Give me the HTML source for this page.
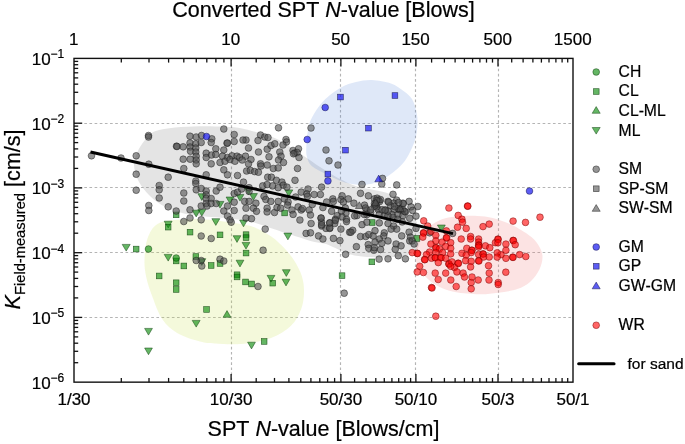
<!DOCTYPE html><html><head><meta charset="utf-8"><title>plot</title>
<style>html,body{margin:0;padding:0;background:#fff;overflow:hidden}svg{display:block}text{font-family:"Liberation Sans",sans-serif;fill:#000;stroke:#000;stroke-width:0.22px;font-kerning:none}</style></head><body>
<svg width="685" height="444" viewBox="0 0 685 444">
<rect width="685" height="444" fill="#fff"/>
<g stroke="#b4b4b4" stroke-width="1.15" stroke-dasharray="2.65 2.5" fill="none">
<line x1="231.5" y1="58.4" x2="231.5" y2="382.15"/>
<line x1="340.5" y1="58.4" x2="340.5" y2="382.15"/>
<line x1="415.5" y1="58.4" x2="415.5" y2="382.15"/>
<line x1="498.5" y1="58.4" x2="498.5" y2="382.15"/>
<line x1="74.0" y1="123.5" x2="573.0" y2="123.5"/>
<line x1="74.0" y1="187.5" x2="573.0" y2="187.5"/>
<line x1="74.0" y1="252.5" x2="573.0" y2="252.5"/>
<line x1="74.0" y1="317.5" x2="573.0" y2="317.5"/>
</g>
<path d="M134.0,165.0C133.8,160.2 135.7,156.2 137.5,152.0C139.3,147.8 142.1,143.4 145.0,140.0C147.9,136.6 150.0,133.4 155.0,131.3C160.0,129.2 167.5,128.3 175.0,127.5C182.5,126.7 191.7,126.3 200.0,126.2C208.3,126.1 218.2,126.3 225.0,126.7C231.8,127.1 232.9,126.5 241.0,128.3C249.1,130.1 265.2,134.3 273.5,137.5C281.8,140.7 285.6,144.2 291.0,147.5C296.4,150.8 301.2,154.2 306.0,157.5C310.8,160.8 314.2,163.3 320.0,167.0C325.8,170.7 334.8,176.3 341.0,179.6C347.2,182.8 349.6,184.3 357.0,186.5C364.4,188.7 378.5,190.2 385.5,192.5C392.5,194.8 394.7,196.8 399.0,200.0C403.3,203.2 408.3,207.7 411.5,212.0C414.7,216.3 416.6,221.5 418.0,226.0C419.4,230.5 420.1,235.2 420.0,239.0C419.9,242.8 419.0,246.0 417.5,248.5C416.0,251.0 415.4,252.6 411.0,254.0C406.6,255.4 398.3,256.7 391.0,257.2C383.7,257.7 373.7,257.4 367.0,257.0C360.3,256.6 355.6,255.8 350.8,254.5C346.0,253.2 342.5,251.2 338.4,249.5C334.3,247.8 330.6,245.4 326.0,244.0C321.4,242.6 316.4,242.5 310.5,240.9C304.6,239.3 297.0,236.7 290.6,234.6C284.2,232.5 278.8,230.6 272.0,228.4C265.2,226.2 257.8,223.2 250.0,221.5C242.2,219.8 235.0,219.1 225.0,218.0C215.0,216.9 199.8,216.5 190.0,214.7C180.2,212.9 172.7,210.3 166.0,207.2C159.3,204.1 154.6,200.4 150.0,196.0C145.4,191.6 141.2,186.2 138.5,181.0C135.8,175.8 134.2,169.8 134.0,165.0Z" fill="#7a7a7a" fill-opacity="0.2"/>
<path d="M205.0,219.5C215.5,220.2 232.3,222.5 241.0,224.0C249.7,225.5 251.8,226.2 257.0,228.4C262.2,230.6 267.4,233.7 272.0,237.0C276.6,240.3 280.7,244.4 284.4,248.3C288.1,252.2 291.4,256.1 294.3,260.7C297.2,265.3 300.2,270.8 301.8,276.0C303.4,281.2 304.1,286.4 304.0,292.0C303.9,297.6 303.2,303.9 301.0,309.5C298.8,315.1 296.0,320.9 291.0,325.7C286.0,330.4 279.3,334.9 271.0,338.0C262.7,341.1 250.3,343.1 241.0,344.0C231.7,344.9 221.8,343.9 215.0,343.5C208.2,343.1 206.2,343.2 200.0,341.5C193.8,339.8 183.8,336.9 177.5,333.2C171.2,329.5 166.7,325.5 162.5,319.5C158.3,313.5 155.2,304.1 152.5,297.0C149.8,289.9 147.5,283.2 146.2,277.0C144.9,270.8 144.3,266.4 144.5,260.0C144.7,253.6 145.3,244.5 147.5,238.5C149.7,232.5 152.4,227.1 157.5,224.0C162.6,220.9 170.1,220.6 178.0,219.8C185.9,219.1 194.5,218.8 205.0,219.5Z" fill="#c8e14b" fill-opacity="0.2"/>
<path d="M372.0,80.0C377.8,80.2 385.8,81.7 391.0,83.5C396.2,85.3 400.0,88.4 403.5,91.0C407.0,93.6 409.8,95.5 412.0,99.0C414.2,102.5 415.6,107.7 416.5,112.0C417.4,116.3 417.8,120.3 417.5,125.0C417.2,129.7 416.5,135.0 415.0,140.0C413.5,145.0 410.9,150.7 408.5,155.0C406.1,159.3 404.3,162.2 400.4,166.0C396.5,169.8 390.6,174.9 385.0,178.0C379.4,181.1 373.7,183.8 367.0,184.6C360.3,185.3 351.8,184.3 345.0,182.5C338.2,180.7 331.6,176.8 326.0,174.0C320.4,171.2 314.9,168.8 311.7,166.0C308.5,163.2 307.9,160.1 307.0,157.0C306.1,153.9 306.1,152.0 306.3,147.5C306.5,143.0 307.1,135.0 308.0,130.0C308.9,125.0 309.4,122.3 312.0,117.5C314.6,112.7 318.7,106.0 323.5,101.0C328.3,96.0 335.6,90.7 341.0,87.5C346.4,84.3 350.8,83.2 356.0,82.0C361.2,80.8 366.2,79.8 372.0,80.0Z" fill="#5082d7" fill-opacity="0.18"/>
<path d="M467.8,215.7C473.3,215.6 479.6,215.8 485.0,216.6C490.4,217.4 495.1,218.7 500.0,220.3C504.9,221.9 509.4,223.4 514.6,226.2C519.8,229.0 527.2,233.5 531.4,237.0C535.5,240.5 537.6,243.7 539.5,247.0C541.4,250.3 542.5,253.3 542.5,257.0C542.5,260.7 541.5,265.2 539.4,269.4C537.3,273.6 533.7,278.7 530.0,282.0C526.3,285.3 522.6,287.3 517.3,289.1C512.0,290.9 504.7,291.9 498.4,292.8C492.1,293.7 486.7,294.4 479.5,294.3C472.3,294.2 461.8,293.3 455.0,292.0C448.2,290.7 443.8,289.4 438.6,286.6C433.4,283.8 427.8,279.4 424.0,275.0C420.2,270.6 416.9,265.2 415.7,260.3C414.5,255.4 415.2,250.5 416.6,245.6C418.0,240.7 420.3,235.1 424.0,231.0C427.7,226.9 433.9,223.1 438.6,220.8C443.3,218.5 447.1,217.8 452.0,217.0C456.9,216.2 462.3,215.8 467.8,215.7Z" fill="#f07373" fill-opacity="0.2"/>
<path d="M122.2,244.4L130.2,244.4L126.2,251.1Z" fill="#0a8c0a" fill-opacity="0.63" stroke="#0a3d0a" stroke-opacity="0.8" stroke-width="0.6"/>
<path d="M164.2,221.2L172.1,221.2L168.2,227.9Z" fill="#0a8c0a" fill-opacity="0.63" stroke="#0a3d0a" stroke-opacity="0.8" stroke-width="0.6"/>
<path d="M164.2,254.4L172.1,254.4L168.2,261.1Z" fill="#0a8c0a" fill-opacity="0.63" stroke="#0a3d0a" stroke-opacity="0.8" stroke-width="0.6"/>
<path d="M197.9,193.7L205.8,193.7L201.8,200.4Z" fill="#0a8c0a" fill-opacity="0.63" stroke="#0a3d0a" stroke-opacity="0.8" stroke-width="0.6"/>
<path d="M197.9,209.4L205.8,209.4L201.8,216.1Z" fill="#0a8c0a" fill-opacity="0.63" stroke="#0a3d0a" stroke-opacity="0.8" stroke-width="0.6"/>
<path d="M192.2,210.2L200.1,210.2L196.2,216.9Z" fill="#0a8c0a" fill-opacity="0.63" stroke="#0a3d0a" stroke-opacity="0.8" stroke-width="0.6"/>
<path d="M216.1,201.4L223.9,201.4L220.0,208.1Z" fill="#0a8c0a" fill-opacity="0.63" stroke="#0a3d0a" stroke-opacity="0.8" stroke-width="0.6"/>
<path d="M226.1,197.0L233.9,197.0L230.0,203.7Z" fill="#0a8c0a" fill-opacity="0.63" stroke="#0a3d0a" stroke-opacity="0.8" stroke-width="0.6"/>
<path d="M211.9,218.7L219.8,218.7L215.8,225.4Z" fill="#0a8c0a" fill-opacity="0.63" stroke="#0a3d0a" stroke-opacity="0.8" stroke-width="0.6"/>
<path d="M233.1,235.7L240.9,235.7L237.0,242.4Z" fill="#0a8c0a" fill-opacity="0.63" stroke="#0a3d0a" stroke-opacity="0.8" stroke-width="0.6"/>
<path d="M236.1,260.2L243.9,260.2L240.0,266.9Z" fill="#0a8c0a" fill-opacity="0.63" stroke="#0a3d0a" stroke-opacity="0.8" stroke-width="0.6"/>
<path d="M197.9,258.7L205.8,258.7L201.8,265.4Z" fill="#0a8c0a" fill-opacity="0.63" stroke="#0a3d0a" stroke-opacity="0.8" stroke-width="0.6"/>
<path d="M236.1,194.4L243.9,194.4L240.0,201.1Z" fill="#0a8c0a" fill-opacity="0.63" stroke="#0a3d0a" stroke-opacity="0.8" stroke-width="0.6"/>
<rect x="133.3" y="246.2" width="5.7" height="5.7" fill="#0a8c0a" fill-opacity="0.63" stroke="#0a3d0a" stroke-opacity="0.8" stroke-width="0.6"/>
<rect x="165.3" y="224.3" width="5.7" height="5.7" fill="#0a8c0a" fill-opacity="0.63" stroke="#0a3d0a" stroke-opacity="0.8" stroke-width="0.6"/>
<rect x="173.3" y="212.0" width="5.7" height="5.7" fill="#0a8c0a" fill-opacity="0.63" stroke="#0a3d0a" stroke-opacity="0.8" stroke-width="0.6"/>
<rect x="187.2" y="229.3" width="5.7" height="5.7" fill="#0a8c0a" fill-opacity="0.63" stroke="#0a3d0a" stroke-opacity="0.8" stroke-width="0.6"/>
<rect x="217.2" y="232.0" width="5.7" height="5.7" fill="#0a8c0a" fill-opacity="0.63" stroke="#0a3d0a" stroke-opacity="0.8" stroke-width="0.6"/>
<rect x="173.3" y="258.1" width="5.7" height="5.7" fill="#0a8c0a" fill-opacity="0.63" stroke="#0a3d0a" stroke-opacity="0.8" stroke-width="0.6"/>
<rect x="181.0" y="263.1" width="5.7" height="5.7" fill="#0a8c0a" fill-opacity="0.63" stroke="#0a3d0a" stroke-opacity="0.8" stroke-width="0.6"/>
<rect x="193.0" y="253.7" width="5.7" height="5.7" fill="#0a8c0a" fill-opacity="0.63" stroke="#0a3d0a" stroke-opacity="0.8" stroke-width="0.6"/>
<rect x="208.3" y="262.6" width="5.7" height="5.7" fill="#0a8c0a" fill-opacity="0.63" stroke="#0a3d0a" stroke-opacity="0.8" stroke-width="0.6"/>
<rect x="217.2" y="260.6" width="5.7" height="5.7" fill="#0a8c0a" fill-opacity="0.63" stroke="#0a3d0a" stroke-opacity="0.8" stroke-width="0.6"/>
<rect x="156.3" y="273.1" width="5.7" height="5.7" fill="#0a8c0a" fill-opacity="0.63" stroke="#0a3d0a" stroke-opacity="0.8" stroke-width="0.6"/>
<rect x="234.2" y="271.9" width="5.7" height="5.7" fill="#0a8c0a" fill-opacity="0.63" stroke="#0a3d0a" stroke-opacity="0.8" stroke-width="0.6"/>
<circle cx="148.5" cy="249.0" r="3.35" fill="#0a8c0a" fill-opacity="0.63" stroke="#0a3d0a" stroke-opacity="0.8" stroke-width="0.6"/>
<circle cx="176.2" cy="258.0" r="3.35" fill="#0a8c0a" fill-opacity="0.63" stroke="#0a3d0a" stroke-opacity="0.8" stroke-width="0.6"/>
<path d="M249.5,193.6L257.4,193.6L253.4,200.3Z" fill="#0a8c0a" fill-opacity="0.63" stroke="#0a3d0a" stroke-opacity="0.8" stroke-width="0.6"/>
<path d="M284.9,189.9L292.8,189.9L288.8,196.6Z" fill="#0a8c0a" fill-opacity="0.63" stroke="#0a3d0a" stroke-opacity="0.8" stroke-width="0.6"/>
<path d="M244.5,188.0L252.3,188.0L248.4,194.7Z" fill="#0a8c0a" fill-opacity="0.63" stroke="#0a3d0a" stroke-opacity="0.8" stroke-width="0.6"/>
<rect x="281.8" y="210.1" width="5.7" height="5.7" fill="#0a8c0a" fill-opacity="0.63" stroke="#0a3d0a" stroke-opacity="0.8" stroke-width="0.6"/>
<path d="M283.9,233.1L291.8,233.1L287.9,239.8Z" fill="#0a8c0a" fill-opacity="0.63" stroke="#0a3d0a" stroke-opacity="0.8" stroke-width="0.6"/>
<path d="M282.4,269.7L290.2,269.7L286.3,276.4Z" fill="#0a8c0a" fill-opacity="0.63" stroke="#0a3d0a" stroke-opacity="0.8" stroke-width="0.6"/>
<path d="M239.6,220.1L247.4,220.1L243.5,226.8Z" fill="#0a8c0a" fill-opacity="0.63" stroke="#0a3d0a" stroke-opacity="0.8" stroke-width="0.6"/>
<path d="M242.1,242.4L249.9,242.4L246.0,249.1Z" fill="#0a8c0a" fill-opacity="0.63" stroke="#0a3d0a" stroke-opacity="0.8" stroke-width="0.6"/>
<rect x="243.2" y="231.8" width="5.7" height="5.7" fill="#0a8c0a" fill-opacity="0.63" stroke="#0a3d0a" stroke-opacity="0.8" stroke-width="0.6"/>
<rect x="243.2" y="234.8" width="5.7" height="5.7" fill="#0a8c0a" fill-opacity="0.63" stroke="#0a3d0a" stroke-opacity="0.8" stroke-width="0.6"/>
<rect x="243.2" y="250.2" width="5.7" height="5.7" fill="#0a8c0a" fill-opacity="0.63" stroke="#0a3d0a" stroke-opacity="0.8" stroke-width="0.6"/>
<rect x="369.3" y="219.7" width="5.7" height="5.7" fill="#0a8c0a" fill-opacity="0.63" stroke="#0a3d0a" stroke-opacity="0.8" stroke-width="0.6"/>
<rect x="369.0" y="259.0" width="5.7" height="5.7" fill="#0a8c0a" fill-opacity="0.63" stroke="#0a3d0a" stroke-opacity="0.8" stroke-width="0.6"/>
<rect x="339.2" y="272.8" width="5.7" height="5.7" fill="#0a8c0a" fill-opacity="0.63" stroke="#0a3d0a" stroke-opacity="0.8" stroke-width="0.6"/>
<rect x="414.1" y="235.6" width="5.7" height="5.7" fill="#0a8c0a" fill-opacity="0.63" stroke="#0a3d0a" stroke-opacity="0.8" stroke-width="0.6"/>
<path d="M437.4,225.0L445.3,225.0L441.4,231.7Z" fill="#0a8c0a" fill-opacity="0.63" stroke="#0a3d0a" stroke-opacity="0.8" stroke-width="0.6"/>
<rect x="173.3" y="279.9" width="5.7" height="5.7" fill="#0a8c0a" fill-opacity="0.63" stroke="#0a3d0a" stroke-opacity="0.8" stroke-width="0.6"/>
<rect x="173.3" y="286.6" width="5.7" height="5.7" fill="#0a8c0a" fill-opacity="0.63" stroke="#0a3d0a" stroke-opacity="0.8" stroke-width="0.6"/>
<rect x="203.7" y="306.6" width="5.7" height="5.7" fill="#0a8c0a" fill-opacity="0.63" stroke="#0a3d0a" stroke-opacity="0.8" stroke-width="0.6"/>
<rect x="234.2" y="274.1" width="5.7" height="5.7" fill="#0a8c0a" fill-opacity="0.63" stroke="#0a3d0a" stroke-opacity="0.8" stroke-width="0.6"/>
<path d="M223.1,317.3L230.9,317.3L227.0,310.6Z" fill="#0a8c0a" fill-opacity="0.63" stroke="#0a3d0a" stroke-opacity="0.8" stroke-width="0.6"/>
<path d="M192.2,320.4L200.1,320.4L196.2,327.1Z" fill="#0a8c0a" fill-opacity="0.63" stroke="#0a3d0a" stroke-opacity="0.8" stroke-width="0.6"/>
<path d="M144.6,328.4L152.4,328.4L148.5,335.1Z" fill="#0a8c0a" fill-opacity="0.63" stroke="#0a3d0a" stroke-opacity="0.8" stroke-width="0.6"/>
<path d="M144.6,348.0L152.4,348.0L148.5,354.7Z" fill="#0a8c0a" fill-opacity="0.63" stroke="#0a3d0a" stroke-opacity="0.8" stroke-width="0.6"/>
<rect x="242.7" y="279.1" width="5.7" height="5.7" fill="#0a8c0a" fill-opacity="0.63" stroke="#0a3d0a" stroke-opacity="0.8" stroke-width="0.6"/>
<rect x="248.7" y="281.1" width="5.7" height="5.7" fill="#0a8c0a" fill-opacity="0.63" stroke="#0a3d0a" stroke-opacity="0.8" stroke-width="0.6"/>
<rect x="269.9" y="280.3" width="5.7" height="5.7" fill="#0a8c0a" fill-opacity="0.63" stroke="#0a3d0a" stroke-opacity="0.8" stroke-width="0.6"/>
<rect x="261.3" y="338.6" width="5.7" height="5.7" fill="#0a8c0a" fill-opacity="0.63" stroke="#0a3d0a" stroke-opacity="0.8" stroke-width="0.6"/>
<path d="M282.1,279.2L289.9,279.2L286.0,285.9Z" fill="#0a8c0a" fill-opacity="0.63" stroke="#0a3d0a" stroke-opacity="0.8" stroke-width="0.6"/>
<path d="M267.1,275.4L274.9,275.4L271.0,282.1Z" fill="#0a8c0a" fill-opacity="0.63" stroke="#0a3d0a" stroke-opacity="0.8" stroke-width="0.6"/>
<path d="M247.6,342.2L255.4,342.2L251.5,348.9Z" fill="#0a8c0a" fill-opacity="0.63" stroke="#0a3d0a" stroke-opacity="0.8" stroke-width="0.6"/>
<circle cx="91.5" cy="155.8" r="3.35" fill="#505050" fill-opacity="0.6" stroke="#1a1a1a" stroke-opacity="0.8" stroke-width="0.6"/>
<circle cx="121.0" cy="158.0" r="3.35" fill="#505050" fill-opacity="0.6" stroke="#1a1a1a" stroke-opacity="0.8" stroke-width="0.6"/>
<circle cx="136.2" cy="155.8" r="3.35" fill="#505050" fill-opacity="0.6" stroke="#1a1a1a" stroke-opacity="0.8" stroke-width="0.6"/>
<circle cx="148.5" cy="135.5" r="3.35" fill="#505050" fill-opacity="0.6" stroke="#1a1a1a" stroke-opacity="0.8" stroke-width="0.6"/>
<circle cx="148.5" cy="137.0" r="3.35" fill="#505050" fill-opacity="0.6" stroke="#1a1a1a" stroke-opacity="0.8" stroke-width="0.6"/>
<circle cx="148.8" cy="164.2" r="3.35" fill="#505050" fill-opacity="0.6" stroke="#1a1a1a" stroke-opacity="0.8" stroke-width="0.6"/>
<circle cx="176.5" cy="146.2" r="3.35" fill="#505050" fill-opacity="0.6" stroke="#1a1a1a" stroke-opacity="0.8" stroke-width="0.6"/>
<circle cx="177.0" cy="146.5" r="3.35" fill="#505050" fill-opacity="0.6" stroke="#1a1a1a" stroke-opacity="0.8" stroke-width="0.6"/>
<circle cx="183.2" cy="146.8" r="3.35" fill="#505050" fill-opacity="0.6" stroke="#1a1a1a" stroke-opacity="0.8" stroke-width="0.6"/>
<circle cx="190.0" cy="136.2" r="3.35" fill="#505050" fill-opacity="0.6" stroke="#1a1a1a" stroke-opacity="0.8" stroke-width="0.6"/>
<circle cx="196.2" cy="137.0" r="3.35" fill="#505050" fill-opacity="0.6" stroke="#1a1a1a" stroke-opacity="0.8" stroke-width="0.6"/>
<circle cx="201.5" cy="135.5" r="3.35" fill="#505050" fill-opacity="0.6" stroke="#1a1a1a" stroke-opacity="0.8" stroke-width="0.6"/>
<circle cx="211.8" cy="138.8" r="3.35" fill="#505050" fill-opacity="0.6" stroke="#1a1a1a" stroke-opacity="0.8" stroke-width="0.6"/>
<circle cx="211.2" cy="142.5" r="3.35" fill="#505050" fill-opacity="0.6" stroke="#1a1a1a" stroke-opacity="0.8" stroke-width="0.6"/>
<circle cx="223.8" cy="129.0" r="3.35" fill="#505050" fill-opacity="0.6" stroke="#1a1a1a" stroke-opacity="0.8" stroke-width="0.6"/>
<circle cx="234.2" cy="134.5" r="3.35" fill="#505050" fill-opacity="0.6" stroke="#1a1a1a" stroke-opacity="0.8" stroke-width="0.6"/>
<circle cx="234.2" cy="141.5" r="3.35" fill="#505050" fill-opacity="0.6" stroke="#1a1a1a" stroke-opacity="0.8" stroke-width="0.6"/>
<circle cx="227.0" cy="143.2" r="3.35" fill="#505050" fill-opacity="0.6" stroke="#1a1a1a" stroke-opacity="0.8" stroke-width="0.6"/>
<circle cx="227.5" cy="143.0" r="3.35" fill="#505050" fill-opacity="0.6" stroke="#1a1a1a" stroke-opacity="0.8" stroke-width="0.6"/>
<circle cx="190.0" cy="143.0" r="3.35" fill="#505050" fill-opacity="0.6" stroke="#1a1a1a" stroke-opacity="0.8" stroke-width="0.6"/>
<circle cx="190.0" cy="147.0" r="3.35" fill="#505050" fill-opacity="0.6" stroke="#1a1a1a" stroke-opacity="0.8" stroke-width="0.6"/>
<circle cx="190.5" cy="151.2" r="3.35" fill="#505050" fill-opacity="0.6" stroke="#1a1a1a" stroke-opacity="0.8" stroke-width="0.6"/>
<circle cx="195.8" cy="143.8" r="3.35" fill="#505050" fill-opacity="0.6" stroke="#1a1a1a" stroke-opacity="0.8" stroke-width="0.6"/>
<circle cx="195.8" cy="148.0" r="3.35" fill="#505050" fill-opacity="0.6" stroke="#1a1a1a" stroke-opacity="0.8" stroke-width="0.6"/>
<circle cx="195.8" cy="152.0" r="3.35" fill="#505050" fill-opacity="0.6" stroke="#1a1a1a" stroke-opacity="0.8" stroke-width="0.6"/>
<circle cx="196.2" cy="156.2" r="3.35" fill="#505050" fill-opacity="0.6" stroke="#1a1a1a" stroke-opacity="0.8" stroke-width="0.6"/>
<circle cx="196.2" cy="160.0" r="3.35" fill="#505050" fill-opacity="0.6" stroke="#1a1a1a" stroke-opacity="0.8" stroke-width="0.6"/>
<circle cx="201.2" cy="142.5" r="3.35" fill="#505050" fill-opacity="0.6" stroke="#1a1a1a" stroke-opacity="0.8" stroke-width="0.6"/>
<circle cx="215.8" cy="148.8" r="3.35" fill="#505050" fill-opacity="0.6" stroke="#1a1a1a" stroke-opacity="0.8" stroke-width="0.6"/>
<circle cx="223.8" cy="150.0" r="3.35" fill="#505050" fill-opacity="0.6" stroke="#1a1a1a" stroke-opacity="0.8" stroke-width="0.6"/>
<circle cx="206.2" cy="153.2" r="3.35" fill="#505050" fill-opacity="0.6" stroke="#1a1a1a" stroke-opacity="0.8" stroke-width="0.6"/>
<circle cx="206.2" cy="157.5" r="3.35" fill="#505050" fill-opacity="0.6" stroke="#1a1a1a" stroke-opacity="0.8" stroke-width="0.6"/>
<circle cx="211.5" cy="155.0" r="3.35" fill="#505050" fill-opacity="0.6" stroke="#1a1a1a" stroke-opacity="0.8" stroke-width="0.6"/>
<circle cx="215.8" cy="154.5" r="3.35" fill="#505050" fill-opacity="0.6" stroke="#1a1a1a" stroke-opacity="0.8" stroke-width="0.6"/>
<circle cx="183.2" cy="159.2" r="3.35" fill="#505050" fill-opacity="0.6" stroke="#1a1a1a" stroke-opacity="0.8" stroke-width="0.6"/>
<circle cx="190.2" cy="159.2" r="3.35" fill="#505050" fill-opacity="0.6" stroke="#1a1a1a" stroke-opacity="0.8" stroke-width="0.6"/>
<circle cx="222.5" cy="156.2" r="3.35" fill="#505050" fill-opacity="0.6" stroke="#1a1a1a" stroke-opacity="0.8" stroke-width="0.6"/>
<circle cx="227.5" cy="157.5" r="3.35" fill="#505050" fill-opacity="0.6" stroke="#1a1a1a" stroke-opacity="0.8" stroke-width="0.6"/>
<circle cx="232.0" cy="155.8" r="3.35" fill="#505050" fill-opacity="0.6" stroke="#1a1a1a" stroke-opacity="0.8" stroke-width="0.6"/>
<circle cx="237.0" cy="156.2" r="3.35" fill="#505050" fill-opacity="0.6" stroke="#1a1a1a" stroke-opacity="0.8" stroke-width="0.6"/>
<circle cx="220.0" cy="162.5" r="3.35" fill="#505050" fill-opacity="0.6" stroke="#1a1a1a" stroke-opacity="0.8" stroke-width="0.6"/>
<circle cx="225.0" cy="161.2" r="3.35" fill="#505050" fill-opacity="0.6" stroke="#1a1a1a" stroke-opacity="0.8" stroke-width="0.6"/>
<circle cx="230.0" cy="159.5" r="3.35" fill="#505050" fill-opacity="0.6" stroke="#1a1a1a" stroke-opacity="0.8" stroke-width="0.6"/>
<circle cx="235.0" cy="161.2" r="3.35" fill="#505050" fill-opacity="0.6" stroke="#1a1a1a" stroke-opacity="0.8" stroke-width="0.6"/>
<circle cx="239.5" cy="157.5" r="3.35" fill="#505050" fill-opacity="0.6" stroke="#1a1a1a" stroke-opacity="0.8" stroke-width="0.6"/>
<circle cx="196.2" cy="163.8" r="3.35" fill="#505050" fill-opacity="0.6" stroke="#1a1a1a" stroke-opacity="0.8" stroke-width="0.6"/>
<circle cx="211.2" cy="163.8" r="3.35" fill="#505050" fill-opacity="0.6" stroke="#1a1a1a" stroke-opacity="0.8" stroke-width="0.6"/>
<circle cx="278.5" cy="127.8" r="3.35" fill="#505050" fill-opacity="0.6" stroke="#1a1a1a" stroke-opacity="0.8" stroke-width="0.6"/>
<circle cx="311.0" cy="128.0" r="3.35" fill="#505050" fill-opacity="0.6" stroke="#1a1a1a" stroke-opacity="0.8" stroke-width="0.6"/>
<circle cx="326.0" cy="150.0" r="3.35" fill="#505050" fill-opacity="0.6" stroke="#1a1a1a" stroke-opacity="0.8" stroke-width="0.6"/>
<circle cx="329.0" cy="160.8" r="3.35" fill="#505050" fill-opacity="0.6" stroke="#1a1a1a" stroke-opacity="0.8" stroke-width="0.6"/>
<circle cx="338.0" cy="165.0" r="3.35" fill="#505050" fill-opacity="0.6" stroke="#1a1a1a" stroke-opacity="0.8" stroke-width="0.6"/>
<circle cx="260.5" cy="135.0" r="3.35" fill="#505050" fill-opacity="0.6" stroke="#1a1a1a" stroke-opacity="0.8" stroke-width="0.6"/>
<circle cx="264.8" cy="137.0" r="3.35" fill="#505050" fill-opacity="0.6" stroke="#1a1a1a" stroke-opacity="0.8" stroke-width="0.6"/>
<circle cx="268.0" cy="137.5" r="3.35" fill="#505050" fill-opacity="0.6" stroke="#1a1a1a" stroke-opacity="0.8" stroke-width="0.6"/>
<circle cx="258.0" cy="140.5" r="3.35" fill="#505050" fill-opacity="0.6" stroke="#1a1a1a" stroke-opacity="0.8" stroke-width="0.6"/>
<circle cx="246.0" cy="140.0" r="3.35" fill="#505050" fill-opacity="0.6" stroke="#1a1a1a" stroke-opacity="0.8" stroke-width="0.6"/>
<circle cx="243.0" cy="140.0" r="3.35" fill="#505050" fill-opacity="0.6" stroke="#1a1a1a" stroke-opacity="0.8" stroke-width="0.6"/>
<circle cx="248.5" cy="148.0" r="3.35" fill="#505050" fill-opacity="0.6" stroke="#1a1a1a" stroke-opacity="0.8" stroke-width="0.6"/>
<circle cx="258.5" cy="152.0" r="3.35" fill="#505050" fill-opacity="0.6" stroke="#1a1a1a" stroke-opacity="0.8" stroke-width="0.6"/>
<circle cx="267.2" cy="149.2" r="3.35" fill="#505050" fill-opacity="0.6" stroke="#1a1a1a" stroke-opacity="0.8" stroke-width="0.6"/>
<circle cx="271.0" cy="145.5" r="3.35" fill="#505050" fill-opacity="0.6" stroke="#1a1a1a" stroke-opacity="0.8" stroke-width="0.6"/>
<circle cx="274.8" cy="143.8" r="3.35" fill="#505050" fill-opacity="0.6" stroke="#1a1a1a" stroke-opacity="0.8" stroke-width="0.6"/>
<circle cx="286.0" cy="139.5" r="3.35" fill="#505050" fill-opacity="0.6" stroke="#1a1a1a" stroke-opacity="0.8" stroke-width="0.6"/>
<circle cx="286.5" cy="142.0" r="3.35" fill="#505050" fill-opacity="0.6" stroke="#1a1a1a" stroke-opacity="0.8" stroke-width="0.6"/>
<circle cx="283.0" cy="145.0" r="3.35" fill="#505050" fill-opacity="0.6" stroke="#1a1a1a" stroke-opacity="0.8" stroke-width="0.6"/>
<circle cx="279.8" cy="152.0" r="3.35" fill="#505050" fill-opacity="0.6" stroke="#1a1a1a" stroke-opacity="0.8" stroke-width="0.6"/>
<circle cx="281.0" cy="156.2" r="3.35" fill="#505050" fill-opacity="0.6" stroke="#1a1a1a" stroke-opacity="0.8" stroke-width="0.6"/>
<circle cx="269.0" cy="156.8" r="3.35" fill="#505050" fill-opacity="0.6" stroke="#1a1a1a" stroke-opacity="0.8" stroke-width="0.6"/>
<circle cx="278.5" cy="160.0" r="3.35" fill="#505050" fill-opacity="0.6" stroke="#1a1a1a" stroke-opacity="0.8" stroke-width="0.6"/>
<circle cx="283.5" cy="162.5" r="3.35" fill="#505050" fill-opacity="0.6" stroke="#1a1a1a" stroke-opacity="0.8" stroke-width="0.6"/>
<circle cx="293.0" cy="150.5" r="3.35" fill="#505050" fill-opacity="0.6" stroke="#1a1a1a" stroke-opacity="0.8" stroke-width="0.6"/>
<circle cx="294.8" cy="153.0" r="3.35" fill="#505050" fill-opacity="0.6" stroke="#1a1a1a" stroke-opacity="0.8" stroke-width="0.6"/>
<circle cx="298.5" cy="148.8" r="3.35" fill="#505050" fill-opacity="0.6" stroke="#1a1a1a" stroke-opacity="0.8" stroke-width="0.6"/>
<circle cx="297.2" cy="152.5" r="3.35" fill="#505050" fill-opacity="0.6" stroke="#1a1a1a" stroke-opacity="0.8" stroke-width="0.6"/>
<circle cx="299.0" cy="157.5" r="3.35" fill="#505050" fill-opacity="0.6" stroke="#1a1a1a" stroke-opacity="0.8" stroke-width="0.6"/>
<circle cx="293.5" cy="153.8" r="3.35" fill="#505050" fill-opacity="0.6" stroke="#1a1a1a" stroke-opacity="0.8" stroke-width="0.6"/>
<circle cx="245.5" cy="156.2" r="3.35" fill="#505050" fill-opacity="0.6" stroke="#1a1a1a" stroke-opacity="0.8" stroke-width="0.6"/>
<circle cx="251.0" cy="159.5" r="3.35" fill="#505050" fill-opacity="0.6" stroke="#1a1a1a" stroke-opacity="0.8" stroke-width="0.6"/>
<circle cx="242.2" cy="160.0" r="3.35" fill="#505050" fill-opacity="0.6" stroke="#1a1a1a" stroke-opacity="0.8" stroke-width="0.6"/>
<circle cx="248.5" cy="163.8" r="3.35" fill="#505050" fill-opacity="0.6" stroke="#1a1a1a" stroke-opacity="0.8" stroke-width="0.6"/>
<circle cx="260.5" cy="163.8" r="3.35" fill="#505050" fill-opacity="0.6" stroke="#1a1a1a" stroke-opacity="0.8" stroke-width="0.6"/>
<circle cx="267.2" cy="165.0" r="3.35" fill="#505050" fill-opacity="0.6" stroke="#1a1a1a" stroke-opacity="0.8" stroke-width="0.6"/>
<circle cx="136.2" cy="174.2" r="3.35" fill="#505050" fill-opacity="0.6" stroke="#1a1a1a" stroke-opacity="0.8" stroke-width="0.6"/>
<circle cx="136.2" cy="190.2" r="3.35" fill="#505050" fill-opacity="0.6" stroke="#1a1a1a" stroke-opacity="0.8" stroke-width="0.6"/>
<circle cx="148.8" cy="205.5" r="3.35" fill="#505050" fill-opacity="0.6" stroke="#1a1a1a" stroke-opacity="0.8" stroke-width="0.6"/>
<circle cx="148.8" cy="210.5" r="3.35" fill="#505050" fill-opacity="0.6" stroke="#1a1a1a" stroke-opacity="0.8" stroke-width="0.6"/>
<circle cx="159.2" cy="185.5" r="3.35" fill="#505050" fill-opacity="0.6" stroke="#1a1a1a" stroke-opacity="0.8" stroke-width="0.6"/>
<circle cx="159.2" cy="189.8" r="3.35" fill="#505050" fill-opacity="0.6" stroke="#1a1a1a" stroke-opacity="0.8" stroke-width="0.6"/>
<circle cx="159.2" cy="198.0" r="3.35" fill="#505050" fill-opacity="0.6" stroke="#1a1a1a" stroke-opacity="0.8" stroke-width="0.6"/>
<circle cx="168.2" cy="177.2" r="3.35" fill="#505050" fill-opacity="0.6" stroke="#1a1a1a" stroke-opacity="0.8" stroke-width="0.6"/>
<circle cx="168.2" cy="206.8" r="3.35" fill="#505050" fill-opacity="0.6" stroke="#1a1a1a" stroke-opacity="0.8" stroke-width="0.6"/>
<circle cx="176.2" cy="211.0" r="3.35" fill="#505050" fill-opacity="0.6" stroke="#1a1a1a" stroke-opacity="0.8" stroke-width="0.6"/>
<circle cx="183.8" cy="168.5" r="3.35" fill="#505050" fill-opacity="0.6" stroke="#1a1a1a" stroke-opacity="0.8" stroke-width="0.6"/>
<circle cx="183.8" cy="193.0" r="3.35" fill="#505050" fill-opacity="0.6" stroke="#1a1a1a" stroke-opacity="0.8" stroke-width="0.6"/>
<circle cx="183.8" cy="201.0" r="3.35" fill="#505050" fill-opacity="0.6" stroke="#1a1a1a" stroke-opacity="0.8" stroke-width="0.6"/>
<circle cx="183.8" cy="221.5" r="3.35" fill="#505050" fill-opacity="0.6" stroke="#1a1a1a" stroke-opacity="0.8" stroke-width="0.6"/>
<circle cx="190.0" cy="209.8" r="3.35" fill="#505050" fill-opacity="0.6" stroke="#1a1a1a" stroke-opacity="0.8" stroke-width="0.6"/>
<circle cx="190.0" cy="218.0" r="3.35" fill="#505050" fill-opacity="0.6" stroke="#1a1a1a" stroke-opacity="0.8" stroke-width="0.6"/>
<circle cx="195.8" cy="181.0" r="3.35" fill="#505050" fill-opacity="0.6" stroke="#1a1a1a" stroke-opacity="0.8" stroke-width="0.6"/>
<circle cx="195.8" cy="183.5" r="3.35" fill="#505050" fill-opacity="0.6" stroke="#1a1a1a" stroke-opacity="0.8" stroke-width="0.6"/>
<circle cx="196.2" cy="189.8" r="3.35" fill="#505050" fill-opacity="0.6" stroke="#1a1a1a" stroke-opacity="0.8" stroke-width="0.6"/>
<circle cx="201.2" cy="188.5" r="3.35" fill="#505050" fill-opacity="0.6" stroke="#1a1a1a" stroke-opacity="0.8" stroke-width="0.6"/>
<circle cx="201.2" cy="206.0" r="3.35" fill="#505050" fill-opacity="0.6" stroke="#1a1a1a" stroke-opacity="0.8" stroke-width="0.6"/>
<circle cx="201.2" cy="219.8" r="3.35" fill="#505050" fill-opacity="0.6" stroke="#1a1a1a" stroke-opacity="0.8" stroke-width="0.6"/>
<circle cx="201.2" cy="236.0" r="3.35" fill="#505050" fill-opacity="0.6" stroke="#1a1a1a" stroke-opacity="0.8" stroke-width="0.6"/>
<circle cx="201.2" cy="260.5" r="3.35" fill="#505050" fill-opacity="0.6" stroke="#1a1a1a" stroke-opacity="0.8" stroke-width="0.6"/>
<circle cx="201.8" cy="266.0" r="3.35" fill="#505050" fill-opacity="0.6" stroke="#1a1a1a" stroke-opacity="0.8" stroke-width="0.6"/>
<circle cx="206.2" cy="174.8" r="3.35" fill="#505050" fill-opacity="0.6" stroke="#1a1a1a" stroke-opacity="0.8" stroke-width="0.6"/>
<circle cx="206.2" cy="191.0" r="3.35" fill="#505050" fill-opacity="0.6" stroke="#1a1a1a" stroke-opacity="0.8" stroke-width="0.6"/>
<circle cx="206.2" cy="194.8" r="3.35" fill="#505050" fill-opacity="0.6" stroke="#1a1a1a" stroke-opacity="0.8" stroke-width="0.6"/>
<circle cx="206.2" cy="198.5" r="3.35" fill="#505050" fill-opacity="0.6" stroke="#1a1a1a" stroke-opacity="0.8" stroke-width="0.6"/>
<circle cx="206.2" cy="203.5" r="3.35" fill="#505050" fill-opacity="0.6" stroke="#1a1a1a" stroke-opacity="0.8" stroke-width="0.6"/>
<circle cx="207.0" cy="206.0" r="3.35" fill="#505050" fill-opacity="0.6" stroke="#1a1a1a" stroke-opacity="0.8" stroke-width="0.6"/>
<circle cx="211.2" cy="198.5" r="3.35" fill="#505050" fill-opacity="0.6" stroke="#1a1a1a" stroke-opacity="0.8" stroke-width="0.6"/>
<circle cx="211.2" cy="203.5" r="3.35" fill="#505050" fill-opacity="0.6" stroke="#1a1a1a" stroke-opacity="0.8" stroke-width="0.6"/>
<circle cx="211.2" cy="238.5" r="3.35" fill="#505050" fill-opacity="0.6" stroke="#1a1a1a" stroke-opacity="0.8" stroke-width="0.6"/>
<circle cx="216.2" cy="191.0" r="3.35" fill="#505050" fill-opacity="0.6" stroke="#1a1a1a" stroke-opacity="0.8" stroke-width="0.6"/>
<circle cx="216.2" cy="203.5" r="3.35" fill="#505050" fill-opacity="0.6" stroke="#1a1a1a" stroke-opacity="0.8" stroke-width="0.6"/>
<circle cx="220.0" cy="187.2" r="3.35" fill="#505050" fill-opacity="0.6" stroke="#1a1a1a" stroke-opacity="0.8" stroke-width="0.6"/>
<circle cx="220.0" cy="259.2" r="3.35" fill="#505050" fill-opacity="0.6" stroke="#1a1a1a" stroke-opacity="0.8" stroke-width="0.6"/>
<circle cx="223.8" cy="169.8" r="3.35" fill="#505050" fill-opacity="0.6" stroke="#1a1a1a" stroke-opacity="0.8" stroke-width="0.6"/>
<circle cx="223.8" cy="261.0" r="3.35" fill="#505050" fill-opacity="0.6" stroke="#1a1a1a" stroke-opacity="0.8" stroke-width="0.6"/>
<circle cx="223.8" cy="211.0" r="3.35" fill="#505050" fill-opacity="0.6" stroke="#1a1a1a" stroke-opacity="0.8" stroke-width="0.6"/>
<circle cx="227.5" cy="174.8" r="3.35" fill="#505050" fill-opacity="0.6" stroke="#1a1a1a" stroke-opacity="0.8" stroke-width="0.6"/>
<circle cx="227.5" cy="206.0" r="3.35" fill="#505050" fill-opacity="0.6" stroke="#1a1a1a" stroke-opacity="0.8" stroke-width="0.6"/>
<circle cx="227.5" cy="216.0" r="3.35" fill="#505050" fill-opacity="0.6" stroke="#1a1a1a" stroke-opacity="0.8" stroke-width="0.6"/>
<circle cx="230.0" cy="219.8" r="3.35" fill="#505050" fill-opacity="0.6" stroke="#1a1a1a" stroke-opacity="0.8" stroke-width="0.6"/>
<circle cx="231.2" cy="222.2" r="3.35" fill="#505050" fill-opacity="0.6" stroke="#1a1a1a" stroke-opacity="0.8" stroke-width="0.6"/>
<circle cx="234.2" cy="193.5" r="3.35" fill="#505050" fill-opacity="0.6" stroke="#1a1a1a" stroke-opacity="0.8" stroke-width="0.6"/>
<circle cx="234.2" cy="202.2" r="3.35" fill="#505050" fill-opacity="0.6" stroke="#1a1a1a" stroke-opacity="0.8" stroke-width="0.6"/>
<circle cx="234.2" cy="210.5" r="3.35" fill="#505050" fill-opacity="0.6" stroke="#1a1a1a" stroke-opacity="0.8" stroke-width="0.6"/>
<circle cx="237.5" cy="175.5" r="3.35" fill="#505050" fill-opacity="0.6" stroke="#1a1a1a" stroke-opacity="0.8" stroke-width="0.6"/>
<circle cx="237.5" cy="192.2" r="3.35" fill="#505050" fill-opacity="0.6" stroke="#1a1a1a" stroke-opacity="0.8" stroke-width="0.6"/>
<circle cx="196.2" cy="260.5" r="3.35" fill="#505050" fill-opacity="0.6" stroke="#1a1a1a" stroke-opacity="0.8" stroke-width="0.6"/>
<circle cx="246.6" cy="171.0" r="3.35" fill="#505050" fill-opacity="0.6" stroke="#1a1a1a" stroke-opacity="0.8" stroke-width="0.6"/>
<circle cx="250.3" cy="170.3" r="3.35" fill="#505050" fill-opacity="0.6" stroke="#1a1a1a" stroke-opacity="0.8" stroke-width="0.6"/>
<circle cx="254.6" cy="171.6" r="3.35" fill="#505050" fill-opacity="0.6" stroke="#1a1a1a" stroke-opacity="0.8" stroke-width="0.6"/>
<circle cx="258.4" cy="172.2" r="3.35" fill="#505050" fill-opacity="0.6" stroke="#1a1a1a" stroke-opacity="0.8" stroke-width="0.6"/>
<circle cx="260.9" cy="166.0" r="3.35" fill="#505050" fill-opacity="0.6" stroke="#1a1a1a" stroke-opacity="0.8" stroke-width="0.6"/>
<circle cx="273.3" cy="168.5" r="3.35" fill="#505050" fill-opacity="0.6" stroke="#1a1a1a" stroke-opacity="0.8" stroke-width="0.6"/>
<circle cx="278.2" cy="167.9" r="3.35" fill="#505050" fill-opacity="0.6" stroke="#1a1a1a" stroke-opacity="0.8" stroke-width="0.6"/>
<circle cx="297.5" cy="168.5" r="3.35" fill="#505050" fill-opacity="0.6" stroke="#1a1a1a" stroke-opacity="0.8" stroke-width="0.6"/>
<circle cx="267.7" cy="177.2" r="3.35" fill="#505050" fill-opacity="0.6" stroke="#1a1a1a" stroke-opacity="0.8" stroke-width="0.6"/>
<circle cx="271.4" cy="177.2" r="3.35" fill="#505050" fill-opacity="0.6" stroke="#1a1a1a" stroke-opacity="0.8" stroke-width="0.6"/>
<circle cx="276.4" cy="180.3" r="3.35" fill="#505050" fill-opacity="0.6" stroke="#1a1a1a" stroke-opacity="0.8" stroke-width="0.6"/>
<circle cx="281.9" cy="182.1" r="3.35" fill="#505050" fill-opacity="0.6" stroke="#1a1a1a" stroke-opacity="0.8" stroke-width="0.6"/>
<circle cx="295.0" cy="180.3" r="3.35" fill="#505050" fill-opacity="0.6" stroke="#1a1a1a" stroke-opacity="0.8" stroke-width="0.6"/>
<circle cx="243.5" cy="182.1" r="3.35" fill="#505050" fill-opacity="0.6" stroke="#1a1a1a" stroke-opacity="0.8" stroke-width="0.6"/>
<circle cx="283.2" cy="185.2" r="3.35" fill="#505050" fill-opacity="0.6" stroke="#1a1a1a" stroke-opacity="0.8" stroke-width="0.6"/>
<circle cx="286.9" cy="187.1" r="3.35" fill="#505050" fill-opacity="0.6" stroke="#1a1a1a" stroke-opacity="0.8" stroke-width="0.6"/>
<circle cx="262.7" cy="185.9" r="3.35" fill="#505050" fill-opacity="0.6" stroke="#1a1a1a" stroke-opacity="0.8" stroke-width="0.6"/>
<circle cx="267.1" cy="184.6" r="3.35" fill="#505050" fill-opacity="0.6" stroke="#1a1a1a" stroke-opacity="0.8" stroke-width="0.6"/>
<circle cx="272.6" cy="185.9" r="3.35" fill="#505050" fill-opacity="0.6" stroke="#1a1a1a" stroke-opacity="0.8" stroke-width="0.6"/>
<circle cx="278.2" cy="187.7" r="3.35" fill="#505050" fill-opacity="0.6" stroke="#1a1a1a" stroke-opacity="0.8" stroke-width="0.6"/>
<circle cx="249.1" cy="187.7" r="3.35" fill="#505050" fill-opacity="0.6" stroke="#1a1a1a" stroke-opacity="0.8" stroke-width="0.6"/>
<circle cx="308.0" cy="189.0" r="3.35" fill="#505050" fill-opacity="0.6" stroke="#1a1a1a" stroke-opacity="0.8" stroke-width="0.6"/>
<circle cx="321.6" cy="187.1" r="3.35" fill="#505050" fill-opacity="0.6" stroke="#1a1a1a" stroke-opacity="0.8" stroke-width="0.6"/>
<circle cx="301.2" cy="192.1" r="3.35" fill="#505050" fill-opacity="0.6" stroke="#1a1a1a" stroke-opacity="0.8" stroke-width="0.6"/>
<circle cx="306.8" cy="193.9" r="3.35" fill="#505050" fill-opacity="0.6" stroke="#1a1a1a" stroke-opacity="0.8" stroke-width="0.6"/>
<circle cx="314.2" cy="194.5" r="3.35" fill="#505050" fill-opacity="0.6" stroke="#1a1a1a" stroke-opacity="0.8" stroke-width="0.6"/>
<circle cx="320.4" cy="194.5" r="3.35" fill="#505050" fill-opacity="0.6" stroke="#1a1a1a" stroke-opacity="0.8" stroke-width="0.6"/>
<circle cx="307.4" cy="196.4" r="3.35" fill="#505050" fill-opacity="0.6" stroke="#1a1a1a" stroke-opacity="0.8" stroke-width="0.6"/>
<circle cx="295.6" cy="197.0" r="3.35" fill="#505050" fill-opacity="0.6" stroke="#1a1a1a" stroke-opacity="0.8" stroke-width="0.6"/>
<circle cx="249.1" cy="191.4" r="3.35" fill="#505050" fill-opacity="0.6" stroke="#1a1a1a" stroke-opacity="0.8" stroke-width="0.6"/>
<circle cx="244.7" cy="201.4" r="3.35" fill="#505050" fill-opacity="0.6" stroke="#1a1a1a" stroke-opacity="0.8" stroke-width="0.6"/>
<circle cx="249.1" cy="201.4" r="3.35" fill="#505050" fill-opacity="0.6" stroke="#1a1a1a" stroke-opacity="0.8" stroke-width="0.6"/>
<circle cx="255.9" cy="203.2" r="3.35" fill="#505050" fill-opacity="0.6" stroke="#1a1a1a" stroke-opacity="0.8" stroke-width="0.6"/>
<circle cx="264.0" cy="196.4" r="3.35" fill="#505050" fill-opacity="0.6" stroke="#1a1a1a" stroke-opacity="0.8" stroke-width="0.6"/>
<circle cx="265.8" cy="199.5" r="3.35" fill="#505050" fill-opacity="0.6" stroke="#1a1a1a" stroke-opacity="0.8" stroke-width="0.6"/>
<circle cx="270.8" cy="201.4" r="3.35" fill="#505050" fill-opacity="0.6" stroke="#1a1a1a" stroke-opacity="0.8" stroke-width="0.6"/>
<circle cx="278.2" cy="201.4" r="3.35" fill="#505050" fill-opacity="0.6" stroke="#1a1a1a" stroke-opacity="0.8" stroke-width="0.6"/>
<circle cx="284.4" cy="198.9" r="3.35" fill="#505050" fill-opacity="0.6" stroke="#1a1a1a" stroke-opacity="0.8" stroke-width="0.6"/>
<circle cx="288.1" cy="202.0" r="3.35" fill="#505050" fill-opacity="0.6" stroke="#1a1a1a" stroke-opacity="0.8" stroke-width="0.6"/>
<circle cx="287.5" cy="205.1" r="3.35" fill="#505050" fill-opacity="0.6" stroke="#1a1a1a" stroke-opacity="0.8" stroke-width="0.6"/>
<circle cx="246.0" cy="208.2" r="3.35" fill="#505050" fill-opacity="0.6" stroke="#1a1a1a" stroke-opacity="0.8" stroke-width="0.6"/>
<circle cx="253.4" cy="208.2" r="3.35" fill="#505050" fill-opacity="0.6" stroke="#1a1a1a" stroke-opacity="0.8" stroke-width="0.6"/>
<circle cx="256.5" cy="211.3" r="3.35" fill="#505050" fill-opacity="0.6" stroke="#1a1a1a" stroke-opacity="0.8" stroke-width="0.6"/>
<circle cx="267.1" cy="208.2" r="3.35" fill="#505050" fill-opacity="0.6" stroke="#1a1a1a" stroke-opacity="0.8" stroke-width="0.6"/>
<circle cx="267.1" cy="211.9" r="3.35" fill="#505050" fill-opacity="0.6" stroke="#1a1a1a" stroke-opacity="0.8" stroke-width="0.6"/>
<circle cx="274.5" cy="212.5" r="3.35" fill="#505050" fill-opacity="0.6" stroke="#1a1a1a" stroke-opacity="0.8" stroke-width="0.6"/>
<circle cx="277.0" cy="207.6" r="3.35" fill="#505050" fill-opacity="0.6" stroke="#1a1a1a" stroke-opacity="0.8" stroke-width="0.6"/>
<circle cx="280.7" cy="208.2" r="3.35" fill="#505050" fill-opacity="0.6" stroke="#1a1a1a" stroke-opacity="0.8" stroke-width="0.6"/>
<circle cx="291.9" cy="210.0" r="3.35" fill="#505050" fill-opacity="0.6" stroke="#1a1a1a" stroke-opacity="0.8" stroke-width="0.6"/>
<circle cx="293.1" cy="214.4" r="3.35" fill="#505050" fill-opacity="0.6" stroke="#1a1a1a" stroke-opacity="0.8" stroke-width="0.6"/>
<circle cx="298.1" cy="206.9" r="3.35" fill="#505050" fill-opacity="0.6" stroke="#1a1a1a" stroke-opacity="0.8" stroke-width="0.6"/>
<circle cx="301.2" cy="210.0" r="3.35" fill="#505050" fill-opacity="0.6" stroke="#1a1a1a" stroke-opacity="0.8" stroke-width="0.6"/>
<circle cx="309.2" cy="210.0" r="3.35" fill="#505050" fill-opacity="0.6" stroke="#1a1a1a" stroke-opacity="0.8" stroke-width="0.6"/>
<circle cx="310.5" cy="215.0" r="3.35" fill="#505050" fill-opacity="0.6" stroke="#1a1a1a" stroke-opacity="0.8" stroke-width="0.6"/>
<circle cx="312.3" cy="204.5" r="3.35" fill="#505050" fill-opacity="0.6" stroke="#1a1a1a" stroke-opacity="0.8" stroke-width="0.6"/>
<circle cx="322.9" cy="207.6" r="3.35" fill="#505050" fill-opacity="0.6" stroke="#1a1a1a" stroke-opacity="0.8" stroke-width="0.6"/>
<circle cx="246.0" cy="218.1" r="3.35" fill="#505050" fill-opacity="0.6" stroke="#1a1a1a" stroke-opacity="0.8" stroke-width="0.6"/>
<circle cx="251.5" cy="218.7" r="3.35" fill="#505050" fill-opacity="0.6" stroke="#1a1a1a" stroke-opacity="0.8" stroke-width="0.6"/>
<circle cx="299.9" cy="220.0" r="3.35" fill="#505050" fill-opacity="0.6" stroke="#1a1a1a" stroke-opacity="0.8" stroke-width="0.6"/>
<circle cx="321.0" cy="218.1" r="3.35" fill="#505050" fill-opacity="0.6" stroke="#1a1a1a" stroke-opacity="0.8" stroke-width="0.6"/>
<circle cx="241.6" cy="189.0" r="3.35" fill="#505050" fill-opacity="0.6" stroke="#1a1a1a" stroke-opacity="0.8" stroke-width="0.6"/>
<circle cx="382.5" cy="178.4" r="3.35" fill="#505050" fill-opacity="0.6" stroke="#1a1a1a" stroke-opacity="0.8" stroke-width="0.6"/>
<circle cx="362.0" cy="184.4" r="3.35" fill="#505050" fill-opacity="0.6" stroke="#1a1a1a" stroke-opacity="0.8" stroke-width="0.6"/>
<circle cx="381.8" cy="184.0" r="3.35" fill="#505050" fill-opacity="0.6" stroke="#1a1a1a" stroke-opacity="0.8" stroke-width="0.6"/>
<circle cx="396.7" cy="184.9" r="3.35" fill="#505050" fill-opacity="0.6" stroke="#1a1a1a" stroke-opacity="0.8" stroke-width="0.6"/>
<circle cx="360.5" cy="193.3" r="3.35" fill="#505050" fill-opacity="0.6" stroke="#1a1a1a" stroke-opacity="0.8" stroke-width="0.6"/>
<circle cx="368.4" cy="195.8" r="3.35" fill="#505050" fill-opacity="0.6" stroke="#1a1a1a" stroke-opacity="0.8" stroke-width="0.6"/>
<circle cx="393.0" cy="194.3" r="3.35" fill="#505050" fill-opacity="0.6" stroke="#1a1a1a" stroke-opacity="0.8" stroke-width="0.6"/>
<circle cx="342.1" cy="195.8" r="3.35" fill="#505050" fill-opacity="0.6" stroke="#1a1a1a" stroke-opacity="0.8" stroke-width="0.6"/>
<circle cx="332.8" cy="198.9" r="3.35" fill="#505050" fill-opacity="0.6" stroke="#1a1a1a" stroke-opacity="0.8" stroke-width="0.6"/>
<circle cx="340.9" cy="199.5" r="3.35" fill="#505050" fill-opacity="0.6" stroke="#1a1a1a" stroke-opacity="0.8" stroke-width="0.6"/>
<circle cx="348.3" cy="198.9" r="3.35" fill="#505050" fill-opacity="0.6" stroke="#1a1a1a" stroke-opacity="0.8" stroke-width="0.6"/>
<circle cx="343.4" cy="202.0" r="3.35" fill="#505050" fill-opacity="0.6" stroke="#1a1a1a" stroke-opacity="0.8" stroke-width="0.6"/>
<circle cx="333.4" cy="201.4" r="3.35" fill="#505050" fill-opacity="0.6" stroke="#1a1a1a" stroke-opacity="0.8" stroke-width="0.6"/>
<circle cx="326.6" cy="202.0" r="3.35" fill="#505050" fill-opacity="0.6" stroke="#1a1a1a" stroke-opacity="0.8" stroke-width="0.6"/>
<circle cx="353.9" cy="203.2" r="3.35" fill="#505050" fill-opacity="0.6" stroke="#1a1a1a" stroke-opacity="0.8" stroke-width="0.6"/>
<circle cx="364.5" cy="205.1" r="3.35" fill="#505050" fill-opacity="0.6" stroke="#1a1a1a" stroke-opacity="0.8" stroke-width="0.6"/>
<circle cx="374.4" cy="198.9" r="3.35" fill="#505050" fill-opacity="0.6" stroke="#1a1a1a" stroke-opacity="0.8" stroke-width="0.6"/>
<circle cx="378.7" cy="200.1" r="3.35" fill="#505050" fill-opacity="0.6" stroke="#1a1a1a" stroke-opacity="0.8" stroke-width="0.6"/>
<circle cx="388.0" cy="201.4" r="3.35" fill="#505050" fill-opacity="0.6" stroke="#1a1a1a" stroke-opacity="0.8" stroke-width="0.6"/>
<circle cx="396.7" cy="200.1" r="3.35" fill="#505050" fill-opacity="0.6" stroke="#1a1a1a" stroke-opacity="0.8" stroke-width="0.6"/>
<circle cx="409.1" cy="201.4" r="3.35" fill="#505050" fill-opacity="0.6" stroke="#1a1a1a" stroke-opacity="0.8" stroke-width="0.6"/>
<circle cx="402.9" cy="203.2" r="3.35" fill="#505050" fill-opacity="0.6" stroke="#1a1a1a" stroke-opacity="0.8" stroke-width="0.6"/>
<circle cx="393.6" cy="203.2" r="3.35" fill="#505050" fill-opacity="0.6" stroke="#1a1a1a" stroke-opacity="0.8" stroke-width="0.6"/>
<circle cx="390.5" cy="205.7" r="3.35" fill="#505050" fill-opacity="0.6" stroke="#1a1a1a" stroke-opacity="0.8" stroke-width="0.6"/>
<circle cx="375.6" cy="203.2" r="3.35" fill="#505050" fill-opacity="0.6" stroke="#1a1a1a" stroke-opacity="0.8" stroke-width="0.6"/>
<circle cx="378.1" cy="209.4" r="3.35" fill="#505050" fill-opacity="0.6" stroke="#1a1a1a" stroke-opacity="0.8" stroke-width="0.6"/>
<circle cx="385.6" cy="210.0" r="3.35" fill="#505050" fill-opacity="0.6" stroke="#1a1a1a" stroke-opacity="0.8" stroke-width="0.6"/>
<circle cx="394.2" cy="209.4" r="3.35" fill="#505050" fill-opacity="0.6" stroke="#1a1a1a" stroke-opacity="0.8" stroke-width="0.6"/>
<circle cx="400.4" cy="208.8" r="3.35" fill="#505050" fill-opacity="0.6" stroke="#1a1a1a" stroke-opacity="0.8" stroke-width="0.6"/>
<circle cx="405.4" cy="211.9" r="3.35" fill="#505050" fill-opacity="0.6" stroke="#1a1a1a" stroke-opacity="0.8" stroke-width="0.6"/>
<circle cx="411.0" cy="206.9" r="3.35" fill="#505050" fill-opacity="0.6" stroke="#1a1a1a" stroke-opacity="0.8" stroke-width="0.6"/>
<circle cx="331.6" cy="211.3" r="3.35" fill="#505050" fill-opacity="0.6" stroke="#1a1a1a" stroke-opacity="0.8" stroke-width="0.6"/>
<circle cx="345.9" cy="213.1" r="3.35" fill="#505050" fill-opacity="0.6" stroke="#1a1a1a" stroke-opacity="0.8" stroke-width="0.6"/>
<circle cx="337.2" cy="215.6" r="3.35" fill="#505050" fill-opacity="0.6" stroke="#1a1a1a" stroke-opacity="0.8" stroke-width="0.6"/>
<circle cx="342.1" cy="216.9" r="3.35" fill="#505050" fill-opacity="0.6" stroke="#1a1a1a" stroke-opacity="0.8" stroke-width="0.6"/>
<circle cx="357.0" cy="215.6" r="3.35" fill="#505050" fill-opacity="0.6" stroke="#1a1a1a" stroke-opacity="0.8" stroke-width="0.6"/>
<circle cx="366.9" cy="210.0" r="3.35" fill="#505050" fill-opacity="0.6" stroke="#1a1a1a" stroke-opacity="0.8" stroke-width="0.6"/>
<circle cx="370.7" cy="212.5" r="3.35" fill="#505050" fill-opacity="0.6" stroke="#1a1a1a" stroke-opacity="0.8" stroke-width="0.6"/>
<circle cx="379.3" cy="214.4" r="3.35" fill="#505050" fill-opacity="0.6" stroke="#1a1a1a" stroke-opacity="0.8" stroke-width="0.6"/>
<circle cx="384.3" cy="215.6" r="3.35" fill="#505050" fill-opacity="0.6" stroke="#1a1a1a" stroke-opacity="0.8" stroke-width="0.6"/>
<circle cx="391.8" cy="214.4" r="3.35" fill="#505050" fill-opacity="0.6" stroke="#1a1a1a" stroke-opacity="0.8" stroke-width="0.6"/>
<circle cx="398.0" cy="215.0" r="3.35" fill="#505050" fill-opacity="0.6" stroke="#1a1a1a" stroke-opacity="0.8" stroke-width="0.6"/>
<circle cx="402.9" cy="215.6" r="3.35" fill="#505050" fill-opacity="0.6" stroke="#1a1a1a" stroke-opacity="0.8" stroke-width="0.6"/>
<circle cx="335.3" cy="219.3" r="3.35" fill="#505050" fill-opacity="0.6" stroke="#1a1a1a" stroke-opacity="0.8" stroke-width="0.6"/>
<circle cx="346.5" cy="219.3" r="3.35" fill="#505050" fill-opacity="0.6" stroke="#1a1a1a" stroke-opacity="0.8" stroke-width="0.6"/>
<circle cx="265.2" cy="229.1" r="3.35" fill="#505050" fill-opacity="0.6" stroke="#1a1a1a" stroke-opacity="0.8" stroke-width="0.6"/>
<circle cx="263.1" cy="250.2" r="3.35" fill="#505050" fill-opacity="0.6" stroke="#1a1a1a" stroke-opacity="0.8" stroke-width="0.6"/>
<circle cx="311.1" cy="223.5" r="3.35" fill="#505050" fill-opacity="0.6" stroke="#1a1a1a" stroke-opacity="0.8" stroke-width="0.6"/>
<circle cx="306.1" cy="233.4" r="3.35" fill="#505050" fill-opacity="0.6" stroke="#1a1a1a" stroke-opacity="0.8" stroke-width="0.6"/>
<circle cx="310.5" cy="232.8" r="3.35" fill="#505050" fill-opacity="0.6" stroke="#1a1a1a" stroke-opacity="0.8" stroke-width="0.6"/>
<circle cx="318.5" cy="235.9" r="3.35" fill="#505050" fill-opacity="0.6" stroke="#1a1a1a" stroke-opacity="0.8" stroke-width="0.6"/>
<circle cx="322.9" cy="239.0" r="3.35" fill="#505050" fill-opacity="0.6" stroke="#1a1a1a" stroke-opacity="0.8" stroke-width="0.6"/>
<circle cx="321.6" cy="226.0" r="3.35" fill="#505050" fill-opacity="0.6" stroke="#1a1a1a" stroke-opacity="0.8" stroke-width="0.6"/>
<circle cx="321.6" cy="222.2" r="3.35" fill="#505050" fill-opacity="0.6" stroke="#1a1a1a" stroke-opacity="0.8" stroke-width="0.6"/>
<circle cx="326.0" cy="228.4" r="3.35" fill="#505050" fill-opacity="0.6" stroke="#1a1a1a" stroke-opacity="0.8" stroke-width="0.6"/>
<circle cx="329.7" cy="222.9" r="3.35" fill="#505050" fill-opacity="0.6" stroke="#1a1a1a" stroke-opacity="0.8" stroke-width="0.6"/>
<circle cx="334.7" cy="223.5" r="3.35" fill="#505050" fill-opacity="0.6" stroke="#1a1a1a" stroke-opacity="0.8" stroke-width="0.6"/>
<circle cx="346.5" cy="221.6" r="3.35" fill="#505050" fill-opacity="0.6" stroke="#1a1a1a" stroke-opacity="0.8" stroke-width="0.6"/>
<circle cx="362.0" cy="224.7" r="3.35" fill="#505050" fill-opacity="0.6" stroke="#1a1a1a" stroke-opacity="0.8" stroke-width="0.6"/>
<circle cx="366.9" cy="222.2" r="3.35" fill="#505050" fill-opacity="0.6" stroke="#1a1a1a" stroke-opacity="0.8" stroke-width="0.6"/>
<circle cx="379.3" cy="222.9" r="3.35" fill="#505050" fill-opacity="0.6" stroke="#1a1a1a" stroke-opacity="0.8" stroke-width="0.6"/>
<circle cx="388.0" cy="223.5" r="3.35" fill="#505050" fill-opacity="0.6" stroke="#1a1a1a" stroke-opacity="0.8" stroke-width="0.6"/>
<circle cx="393.6" cy="226.0" r="3.35" fill="#505050" fill-opacity="0.6" stroke="#1a1a1a" stroke-opacity="0.8" stroke-width="0.6"/>
<circle cx="396.7" cy="229.1" r="3.35" fill="#505050" fill-opacity="0.6" stroke="#1a1a1a" stroke-opacity="0.8" stroke-width="0.6"/>
<circle cx="391.1" cy="229.1" r="3.35" fill="#505050" fill-opacity="0.6" stroke="#1a1a1a" stroke-opacity="0.8" stroke-width="0.6"/>
<circle cx="329.7" cy="228.4" r="3.35" fill="#505050" fill-opacity="0.6" stroke="#1a1a1a" stroke-opacity="0.8" stroke-width="0.6"/>
<circle cx="340.9" cy="229.1" r="3.35" fill="#505050" fill-opacity="0.6" stroke="#1a1a1a" stroke-opacity="0.8" stroke-width="0.6"/>
<circle cx="349.6" cy="232.2" r="3.35" fill="#505050" fill-opacity="0.6" stroke="#1a1a1a" stroke-opacity="0.8" stroke-width="0.6"/>
<circle cx="352.7" cy="230.3" r="3.35" fill="#505050" fill-opacity="0.6" stroke="#1a1a1a" stroke-opacity="0.8" stroke-width="0.6"/>
<circle cx="333.4" cy="238.4" r="3.35" fill="#505050" fill-opacity="0.6" stroke="#1a1a1a" stroke-opacity="0.8" stroke-width="0.6"/>
<circle cx="339.9" cy="240.6" r="3.35" fill="#505050" fill-opacity="0.6" stroke="#1a1a1a" stroke-opacity="0.8" stroke-width="0.6"/>
<circle cx="356.4" cy="246.7" r="3.35" fill="#505050" fill-opacity="0.6" stroke="#1a1a1a" stroke-opacity="0.8" stroke-width="0.6"/>
<circle cx="345.6" cy="254.3" r="3.35" fill="#505050" fill-opacity="0.6" stroke="#1a1a1a" stroke-opacity="0.8" stroke-width="0.6"/>
<circle cx="360.5" cy="236.5" r="3.35" fill="#505050" fill-opacity="0.6" stroke="#1a1a1a" stroke-opacity="0.8" stroke-width="0.6"/>
<circle cx="365.7" cy="236.5" r="3.35" fill="#505050" fill-opacity="0.6" stroke="#1a1a1a" stroke-opacity="0.8" stroke-width="0.6"/>
<circle cx="368.8" cy="234.6" r="3.35" fill="#505050" fill-opacity="0.6" stroke="#1a1a1a" stroke-opacity="0.8" stroke-width="0.6"/>
<circle cx="373.1" cy="235.9" r="3.35" fill="#505050" fill-opacity="0.6" stroke="#1a1a1a" stroke-opacity="0.8" stroke-width="0.6"/>
<circle cx="375.0" cy="230.7" r="3.35" fill="#505050" fill-opacity="0.6" stroke="#1a1a1a" stroke-opacity="0.8" stroke-width="0.6"/>
<circle cx="384.3" cy="232.8" r="3.35" fill="#505050" fill-opacity="0.6" stroke="#1a1a1a" stroke-opacity="0.8" stroke-width="0.6"/>
<circle cx="383.7" cy="235.9" r="3.35" fill="#505050" fill-opacity="0.6" stroke="#1a1a1a" stroke-opacity="0.8" stroke-width="0.6"/>
<circle cx="379.3" cy="239.0" r="3.35" fill="#505050" fill-opacity="0.6" stroke="#1a1a1a" stroke-opacity="0.8" stroke-width="0.6"/>
<circle cx="388.0" cy="240.9" r="3.35" fill="#505050" fill-opacity="0.6" stroke="#1a1a1a" stroke-opacity="0.8" stroke-width="0.6"/>
<circle cx="375.0" cy="242.1" r="3.35" fill="#505050" fill-opacity="0.6" stroke="#1a1a1a" stroke-opacity="0.8" stroke-width="0.6"/>
<circle cx="381.8" cy="243.3" r="3.35" fill="#505050" fill-opacity="0.6" stroke="#1a1a1a" stroke-opacity="0.8" stroke-width="0.6"/>
<circle cx="368.2" cy="244.6" r="3.35" fill="#505050" fill-opacity="0.6" stroke="#1a1a1a" stroke-opacity="0.8" stroke-width="0.6"/>
<circle cx="368.8" cy="248.3" r="3.35" fill="#505050" fill-opacity="0.6" stroke="#1a1a1a" stroke-opacity="0.8" stroke-width="0.6"/>
<circle cx="373.8" cy="250.2" r="3.35" fill="#505050" fill-opacity="0.6" stroke="#1a1a1a" stroke-opacity="0.8" stroke-width="0.6"/>
<circle cx="380.6" cy="249.5" r="3.35" fill="#505050" fill-opacity="0.6" stroke="#1a1a1a" stroke-opacity="0.8" stroke-width="0.6"/>
<circle cx="374.4" cy="247.7" r="3.35" fill="#505050" fill-opacity="0.6" stroke="#1a1a1a" stroke-opacity="0.8" stroke-width="0.6"/>
<circle cx="396.1" cy="244.0" r="3.35" fill="#505050" fill-opacity="0.6" stroke="#1a1a1a" stroke-opacity="0.8" stroke-width="0.6"/>
<circle cx="401.1" cy="245.8" r="3.35" fill="#505050" fill-opacity="0.6" stroke="#1a1a1a" stroke-opacity="0.8" stroke-width="0.6"/>
<circle cx="395.2" cy="249.3" r="3.35" fill="#505050" fill-opacity="0.6" stroke="#1a1a1a" stroke-opacity="0.8" stroke-width="0.6"/>
<circle cx="401.7" cy="235.9" r="3.35" fill="#505050" fill-opacity="0.6" stroke="#1a1a1a" stroke-opacity="0.8" stroke-width="0.6"/>
<circle cx="409.1" cy="232.2" r="3.35" fill="#505050" fill-opacity="0.6" stroke="#1a1a1a" stroke-opacity="0.8" stroke-width="0.6"/>
<circle cx="410.4" cy="237.1" r="3.35" fill="#505050" fill-opacity="0.6" stroke="#1a1a1a" stroke-opacity="0.8" stroke-width="0.6"/>
<circle cx="409.7" cy="240.9" r="3.35" fill="#505050" fill-opacity="0.6" stroke="#1a1a1a" stroke-opacity="0.8" stroke-width="0.6"/>
<circle cx="398.3" cy="255.7" r="3.35" fill="#505050" fill-opacity="0.6" stroke="#1a1a1a" stroke-opacity="0.8" stroke-width="0.6"/>
<circle cx="405.4" cy="258.8" r="3.35" fill="#505050" fill-opacity="0.6" stroke="#1a1a1a" stroke-opacity="0.8" stroke-width="0.6"/>
<circle cx="388.0" cy="258.8" r="3.35" fill="#505050" fill-opacity="0.6" stroke="#1a1a1a" stroke-opacity="0.8" stroke-width="0.6"/>
<circle cx="379.1" cy="259.1" r="3.35" fill="#505050" fill-opacity="0.6" stroke="#1a1a1a" stroke-opacity="0.8" stroke-width="0.6"/>
<circle cx="416.0" cy="216.1" r="3.35" fill="#505050" fill-opacity="0.6" stroke="#1a1a1a" stroke-opacity="0.8" stroke-width="0.6"/>
<circle cx="416.0" cy="228.4" r="3.35" fill="#505050" fill-opacity="0.6" stroke="#1a1a1a" stroke-opacity="0.8" stroke-width="0.6"/>
<circle cx="452.6" cy="233.4" r="3.35" fill="#505050" fill-opacity="0.6" stroke="#1a1a1a" stroke-opacity="0.8" stroke-width="0.6"/>
<circle cx="412.2" cy="240.9" r="3.35" fill="#505050" fill-opacity="0.6" stroke="#1a1a1a" stroke-opacity="0.8" stroke-width="0.6"/>
<circle cx="414.1" cy="244.0" r="3.35" fill="#505050" fill-opacity="0.6" stroke="#1a1a1a" stroke-opacity="0.8" stroke-width="0.6"/>
<circle cx="429.6" cy="232.8" r="3.35" fill="#505050" fill-opacity="0.6" stroke="#1a1a1a" stroke-opacity="0.8" stroke-width="0.6"/>
<circle cx="258.0" cy="286.5" r="3.35" fill="#505050" fill-opacity="0.6" stroke="#1a1a1a" stroke-opacity="0.8" stroke-width="0.6"/>
<circle cx="344.2" cy="293.2" r="3.35" fill="#505050" fill-opacity="0.6" stroke="#1a1a1a" stroke-opacity="0.8" stroke-width="0.6"/>
<circle cx="388.6" cy="202.1" r="3.35" fill="#505050" fill-opacity="0.6" stroke="#1a1a1a" stroke-opacity="0.8" stroke-width="0.6"/>
<circle cx="403.3" cy="203.7" r="3.35" fill="#505050" fill-opacity="0.6" stroke="#1a1a1a" stroke-opacity="0.8" stroke-width="0.6"/>
<circle cx="398.1" cy="208.7" r="3.35" fill="#505050" fill-opacity="0.6" stroke="#1a1a1a" stroke-opacity="0.8" stroke-width="0.6"/>
<circle cx="376.6" cy="206.9" r="3.35" fill="#505050" fill-opacity="0.6" stroke="#1a1a1a" stroke-opacity="0.8" stroke-width="0.6"/>
<circle cx="375.7" cy="205.1" r="3.35" fill="#505050" fill-opacity="0.6" stroke="#1a1a1a" stroke-opacity="0.8" stroke-width="0.6"/>
<circle cx="377.1" cy="198.2" r="3.35" fill="#505050" fill-opacity="0.6" stroke="#1a1a1a" stroke-opacity="0.8" stroke-width="0.6"/>
<circle cx="393.1" cy="217.3" r="3.35" fill="#505050" fill-opacity="0.6" stroke="#1a1a1a" stroke-opacity="0.8" stroke-width="0.6"/>
<circle cx="379.6" cy="201.6" r="3.35" fill="#505050" fill-opacity="0.6" stroke="#1a1a1a" stroke-opacity="0.8" stroke-width="0.6"/>
<circle cx="402.2" cy="221.9" r="3.35" fill="#505050" fill-opacity="0.6" stroke="#1a1a1a" stroke-opacity="0.8" stroke-width="0.6"/>
<circle cx="400.0" cy="209.8" r="3.35" fill="#505050" fill-opacity="0.6" stroke="#1a1a1a" stroke-opacity="0.8" stroke-width="0.6"/>
<circle cx="417.9" cy="206.5" r="3.35" fill="#505050" fill-opacity="0.6" stroke="#1a1a1a" stroke-opacity="0.8" stroke-width="0.6"/>
<circle cx="412.6" cy="210.4" r="3.35" fill="#505050" fill-opacity="0.6" stroke="#1a1a1a" stroke-opacity="0.8" stroke-width="0.6"/>
<circle cx="380.5" cy="199.6" r="3.35" fill="#505050" fill-opacity="0.6" stroke="#1a1a1a" stroke-opacity="0.8" stroke-width="0.6"/>
<circle cx="387.9" cy="215.9" r="3.35" fill="#505050" fill-opacity="0.6" stroke="#1a1a1a" stroke-opacity="0.8" stroke-width="0.6"/>
<circle cx="382.1" cy="209.7" r="3.35" fill="#505050" fill-opacity="0.6" stroke="#1a1a1a" stroke-opacity="0.8" stroke-width="0.6"/>
<circle cx="402.8" cy="209.9" r="3.35" fill="#505050" fill-opacity="0.6" stroke="#1a1a1a" stroke-opacity="0.8" stroke-width="0.6"/>
<circle cx="398.6" cy="202.5" r="3.35" fill="#505050" fill-opacity="0.6" stroke="#1a1a1a" stroke-opacity="0.8" stroke-width="0.6"/>
<circle cx="376.7" cy="200.5" r="3.35" fill="#505050" fill-opacity="0.6" stroke="#1a1a1a" stroke-opacity="0.8" stroke-width="0.6"/>
<circle cx="404.6" cy="211.5" r="3.35" fill="#505050" fill-opacity="0.6" stroke="#1a1a1a" stroke-opacity="0.8" stroke-width="0.6"/>
<circle cx="388.1" cy="211.1" r="3.35" fill="#505050" fill-opacity="0.6" stroke="#1a1a1a" stroke-opacity="0.8" stroke-width="0.6"/>
<circle cx="394.4" cy="206.5" r="3.35" fill="#505050" fill-opacity="0.6" stroke="#1a1a1a" stroke-opacity="0.8" stroke-width="0.6"/>
<circle cx="409.7" cy="218.3" r="3.35" fill="#505050" fill-opacity="0.6" stroke="#1a1a1a" stroke-opacity="0.8" stroke-width="0.6"/>
<circle cx="385.0" cy="210.2" r="3.35" fill="#505050" fill-opacity="0.6" stroke="#1a1a1a" stroke-opacity="0.8" stroke-width="0.6"/>
<circle cx="397.6" cy="219.3" r="3.35" fill="#505050" fill-opacity="0.6" stroke="#1a1a1a" stroke-opacity="0.8" stroke-width="0.6"/>
<circle cx="365.5" cy="208.0" r="3.35" fill="#505050" fill-opacity="0.6" stroke="#1a1a1a" stroke-opacity="0.8" stroke-width="0.6"/>
<circle cx="374.3" cy="206.3" r="3.35" fill="#505050" fill-opacity="0.6" stroke="#1a1a1a" stroke-opacity="0.8" stroke-width="0.6"/>
<circle cx="354.6" cy="215.9" r="3.35" fill="#505050" fill-opacity="0.6" stroke="#1a1a1a" stroke-opacity="0.8" stroke-width="0.6"/>
<circle cx="345.3" cy="207.9" r="3.35" fill="#505050" fill-opacity="0.6" stroke="#1a1a1a" stroke-opacity="0.8" stroke-width="0.6"/>
<circle cx="341.4" cy="211.0" r="3.35" fill="#505050" fill-opacity="0.6" stroke="#1a1a1a" stroke-opacity="0.8" stroke-width="0.6"/>
<circle cx="366.8" cy="214.6" r="3.35" fill="#505050" fill-opacity="0.6" stroke="#1a1a1a" stroke-opacity="0.8" stroke-width="0.6"/>
<circle cx="370.6" cy="209.8" r="3.35" fill="#505050" fill-opacity="0.6" stroke="#1a1a1a" stroke-opacity="0.8" stroke-width="0.6"/>
<circle cx="364.3" cy="214.5" r="3.35" fill="#505050" fill-opacity="0.6" stroke="#1a1a1a" stroke-opacity="0.8" stroke-width="0.6"/>
<circle cx="321.1" cy="218" r="3.35" fill="#505050" fill-opacity="0.6" stroke="#1a1a1a" stroke-opacity="0.8" stroke-width="0.6"/>
<circle cx="321.7" cy="224.8" r="3.35" fill="#505050" fill-opacity="0.6" stroke="#1a1a1a" stroke-opacity="0.8" stroke-width="0.6"/>
<circle cx="329.8" cy="227.9" r="3.35" fill="#505050" fill-opacity="0.6" stroke="#1a1a1a" stroke-opacity="0.8" stroke-width="0.6"/>
<circle cx="329.8" cy="222.9" r="3.35" fill="#505050" fill-opacity="0.6" stroke="#1a1a1a" stroke-opacity="0.8" stroke-width="0.6"/>
<circle cx="335.4" cy="220.4" r="3.35" fill="#505050" fill-opacity="0.6" stroke="#1a1a1a" stroke-opacity="0.8" stroke-width="0.6"/>
<circle cx="302.5" cy="208.6" r="3.35" fill="#505050" fill-opacity="0.6" stroke="#1a1a1a" stroke-opacity="0.8" stroke-width="0.6"/>
<circle cx="350.9" cy="232.2" r="3.35" fill="#505050" fill-opacity="0.6" stroke="#1a1a1a" stroke-opacity="0.8" stroke-width="0.6"/>
<circle cx="374.4" cy="203.7" r="3.35" fill="#505050" fill-opacity="0.6" stroke="#1a1a1a" stroke-opacity="0.8" stroke-width="0.6"/>
<path d="M355.4,208.5L363.2,208.5L359.3,201.8Z" fill="#505050" fill-opacity="0.6" stroke="#1a1a1a" stroke-opacity="0.8" stroke-width="0.6"/>
<path d="M371.7,205.4L379.6,205.4L375.6,198.7Z" fill="#505050" fill-opacity="0.6" stroke="#1a1a1a" stroke-opacity="0.8" stroke-width="0.6"/>
<path d="M396.4,211.6L404.3,211.6L400.4,204.9Z" fill="#505050" fill-opacity="0.6" stroke="#1a1a1a" stroke-opacity="0.8" stroke-width="0.6"/>
<circle cx="206.5" cy="136.5" r="3.35" fill="#1818f0" fill-opacity="0.7" stroke="#114" stroke-opacity="0.8" stroke-width="0.6"/>
<circle cx="325.2" cy="107.5" r="3.35" fill="#1818f0" fill-opacity="0.7" stroke="#114" stroke-opacity="0.8" stroke-width="0.6"/>
<circle cx="307.2" cy="139.5" r="3.35" fill="#1818f0" fill-opacity="0.7" stroke="#114" stroke-opacity="0.8" stroke-width="0.6"/>
<rect x="337.6" y="94.2" width="5.7" height="5.7" fill="#1818f0" fill-opacity="0.7" stroke="#114" stroke-opacity="0.8" stroke-width="0.6"/>
<rect x="392.1" y="92.7" width="5.7" height="5.7" fill="#1818f0" fill-opacity="0.7" stroke="#114" stroke-opacity="0.8" stroke-width="0.6"/>
<rect x="365.6" y="125.3" width="5.7" height="5.7" fill="#1818f0" fill-opacity="0.7" stroke="#114" stroke-opacity="0.8" stroke-width="0.6"/>
<rect x="342.6" y="147.3" width="5.7" height="5.7" fill="#1818f0" fill-opacity="0.7" stroke="#114" stroke-opacity="0.8" stroke-width="0.6"/>
<rect x="325.0" y="171.2" width="5.7" height="5.7" fill="#1818f0" fill-opacity="0.7" stroke="#114" stroke-opacity="0.8" stroke-width="0.6"/>
<circle cx="327.9" cy="180.9" r="3.35" fill="#1818f0" fill-opacity="0.7" stroke="#114" stroke-opacity="0.8" stroke-width="0.6"/>
<path d="M374.8,181.8L382.6,181.8L378.7,175.1Z" fill="#1818f0" fill-opacity="0.7" stroke="#114" stroke-opacity="0.8" stroke-width="0.6"/>
<circle cx="529.5" cy="191.0" r="3.35" fill="#1818f0" fill-opacity="0.7" stroke="#114" stroke-opacity="0.8" stroke-width="0.6"/>
<circle cx="448.9" cy="208.0" r="3.35" fill="#ff0808" fill-opacity="0.62" stroke="#700" stroke-opacity="0.8" stroke-width="0.6"/>
<circle cx="423.7" cy="220.8" r="3.35" fill="#ff0808" fill-opacity="0.62" stroke="#700" stroke-opacity="0.8" stroke-width="0.6"/>
<circle cx="458.2" cy="215.4" r="3.35" fill="#ff0808" fill-opacity="0.62" stroke="#700" stroke-opacity="0.8" stroke-width="0.6"/>
<circle cx="461.9" cy="219.2" r="3.35" fill="#ff0808" fill-opacity="0.62" stroke="#700" stroke-opacity="0.8" stroke-width="0.6"/>
<circle cx="427.7" cy="226.0" r="3.35" fill="#ff0808" fill-opacity="0.62" stroke="#700" stroke-opacity="0.8" stroke-width="0.6"/>
<circle cx="423.4" cy="232.8" r="3.35" fill="#ff0808" fill-opacity="0.62" stroke="#700" stroke-opacity="0.8" stroke-width="0.6"/>
<circle cx="423.7" cy="233.0" r="3.35" fill="#ff0808" fill-opacity="0.62" stroke="#700" stroke-opacity="0.8" stroke-width="0.6"/>
<circle cx="422.8" cy="237.1" r="3.35" fill="#ff0808" fill-opacity="0.62" stroke="#700" stroke-opacity="0.8" stroke-width="0.6"/>
<circle cx="430.9" cy="231.5" r="3.35" fill="#ff0808" fill-opacity="0.62" stroke="#700" stroke-opacity="0.8" stroke-width="0.6"/>
<circle cx="435.8" cy="235.3" r="3.35" fill="#ff0808" fill-opacity="0.62" stroke="#700" stroke-opacity="0.8" stroke-width="0.6"/>
<circle cx="446.4" cy="230.9" r="3.35" fill="#ff0808" fill-opacity="0.62" stroke="#700" stroke-opacity="0.8" stroke-width="0.6"/>
<circle cx="446.4" cy="237.7" r="3.35" fill="#ff0808" fill-opacity="0.62" stroke="#700" stroke-opacity="0.8" stroke-width="0.6"/>
<circle cx="446.6" cy="238.0" r="3.35" fill="#ff0808" fill-opacity="0.62" stroke="#700" stroke-opacity="0.8" stroke-width="0.6"/>
<circle cx="435.8" cy="240.9" r="3.35" fill="#ff0808" fill-opacity="0.62" stroke="#700" stroke-opacity="0.8" stroke-width="0.6"/>
<circle cx="442.0" cy="242.1" r="3.35" fill="#ff0808" fill-opacity="0.62" stroke="#700" stroke-opacity="0.8" stroke-width="0.6"/>
<circle cx="430.9" cy="244.0" r="3.35" fill="#ff0808" fill-opacity="0.62" stroke="#700" stroke-opacity="0.8" stroke-width="0.6"/>
<circle cx="450.7" cy="242.7" r="3.35" fill="#ff0808" fill-opacity="0.62" stroke="#700" stroke-opacity="0.8" stroke-width="0.6"/>
<circle cx="445.7" cy="246.4" r="3.35" fill="#ff0808" fill-opacity="0.62" stroke="#700" stroke-opacity="0.8" stroke-width="0.6"/>
<circle cx="450.7" cy="248.3" r="3.35" fill="#ff0808" fill-opacity="0.62" stroke="#700" stroke-opacity="0.8" stroke-width="0.6"/>
<circle cx="435.8" cy="247.7" r="3.35" fill="#ff0808" fill-opacity="0.62" stroke="#700" stroke-opacity="0.8" stroke-width="0.6"/>
<circle cx="436.1" cy="247.9" r="3.35" fill="#ff0808" fill-opacity="0.62" stroke="#700" stroke-opacity="0.8" stroke-width="0.6"/>
<circle cx="439.5" cy="248.9" r="3.35" fill="#ff0808" fill-opacity="0.62" stroke="#700" stroke-opacity="0.8" stroke-width="0.6"/>
<circle cx="429.6" cy="252.0" r="3.35" fill="#ff0808" fill-opacity="0.62" stroke="#700" stroke-opacity="0.8" stroke-width="0.6"/>
<circle cx="426.5" cy="254.5" r="3.35" fill="#ff0808" fill-opacity="0.62" stroke="#700" stroke-opacity="0.8" stroke-width="0.6"/>
<circle cx="435.8" cy="252.6" r="3.35" fill="#ff0808" fill-opacity="0.62" stroke="#700" stroke-opacity="0.8" stroke-width="0.6"/>
<circle cx="442.6" cy="252.6" r="3.35" fill="#ff0808" fill-opacity="0.62" stroke="#700" stroke-opacity="0.8" stroke-width="0.6"/>
<circle cx="450.7" cy="253.9" r="3.35" fill="#ff0808" fill-opacity="0.62" stroke="#700" stroke-opacity="0.8" stroke-width="0.6"/>
<circle cx="417.2" cy="253.3" r="3.35" fill="#ff0808" fill-opacity="0.62" stroke="#700" stroke-opacity="0.8" stroke-width="0.6"/>
<circle cx="417.5" cy="253.5" r="3.35" fill="#ff0808" fill-opacity="0.62" stroke="#700" stroke-opacity="0.8" stroke-width="0.6"/>
<circle cx="412.2" cy="252.6" r="3.35" fill="#ff0808" fill-opacity="0.62" stroke="#700" stroke-opacity="0.8" stroke-width="0.6"/>
<circle cx="424.6" cy="259.5" r="3.35" fill="#ff0808" fill-opacity="0.62" stroke="#700" stroke-opacity="0.8" stroke-width="0.6"/>
<circle cx="424.9" cy="259.7" r="3.35" fill="#ff0808" fill-opacity="0.62" stroke="#700" stroke-opacity="0.8" stroke-width="0.6"/>
<circle cx="431.5" cy="258.2" r="3.35" fill="#ff0808" fill-opacity="0.62" stroke="#700" stroke-opacity="0.8" stroke-width="0.6"/>
<circle cx="435.2" cy="257.6" r="3.35" fill="#ff0808" fill-opacity="0.62" stroke="#700" stroke-opacity="0.8" stroke-width="0.6"/>
<circle cx="435.4" cy="257.8" r="3.35" fill="#ff0808" fill-opacity="0.62" stroke="#700" stroke-opacity="0.8" stroke-width="0.6"/>
<circle cx="440.8" cy="257.6" r="3.35" fill="#ff0808" fill-opacity="0.62" stroke="#700" stroke-opacity="0.8" stroke-width="0.6"/>
<circle cx="441.0" cy="257.8" r="3.35" fill="#ff0808" fill-opacity="0.62" stroke="#700" stroke-opacity="0.8" stroke-width="0.6"/>
<circle cx="445.7" cy="258.2" r="3.35" fill="#ff0808" fill-opacity="0.62" stroke="#700" stroke-opacity="0.8" stroke-width="0.6"/>
<circle cx="438.3" cy="262.6" r="3.35" fill="#ff0808" fill-opacity="0.62" stroke="#700" stroke-opacity="0.8" stroke-width="0.6"/>
<circle cx="448.8" cy="263.8" r="3.35" fill="#ff0808" fill-opacity="0.62" stroke="#700" stroke-opacity="0.8" stroke-width="0.6"/>
<circle cx="449.1" cy="264.1" r="3.35" fill="#ff0808" fill-opacity="0.62" stroke="#700" stroke-opacity="0.8" stroke-width="0.6"/>
<circle cx="451.9" cy="261.9" r="3.35" fill="#ff0808" fill-opacity="0.62" stroke="#700" stroke-opacity="0.8" stroke-width="0.6"/>
<circle cx="458.1" cy="263.2" r="3.35" fill="#ff0808" fill-opacity="0.62" stroke="#700" stroke-opacity="0.8" stroke-width="0.6"/>
<circle cx="458.4" cy="263.4" r="3.35" fill="#ff0808" fill-opacity="0.62" stroke="#700" stroke-opacity="0.8" stroke-width="0.6"/>
<circle cx="454.4" cy="267.5" r="3.35" fill="#ff0808" fill-opacity="0.62" stroke="#700" stroke-opacity="0.8" stroke-width="0.6"/>
<circle cx="450.7" cy="266.3" r="3.35" fill="#ff0808" fill-opacity="0.62" stroke="#700" stroke-opacity="0.8" stroke-width="0.6"/>
<circle cx="419.7" cy="266.3" r="3.35" fill="#ff0808" fill-opacity="0.62" stroke="#700" stroke-opacity="0.8" stroke-width="0.6"/>
<circle cx="417.2" cy="271.9" r="3.35" fill="#ff0808" fill-opacity="0.62" stroke="#700" stroke-opacity="0.8" stroke-width="0.6"/>
<circle cx="423.4" cy="272.5" r="3.35" fill="#ff0808" fill-opacity="0.62" stroke="#700" stroke-opacity="0.8" stroke-width="0.6"/>
<circle cx="435.2" cy="273.1" r="3.35" fill="#ff0808" fill-opacity="0.62" stroke="#700" stroke-opacity="0.8" stroke-width="0.6"/>
<circle cx="445.7" cy="273.1" r="3.35" fill="#ff0808" fill-opacity="0.62" stroke="#700" stroke-opacity="0.8" stroke-width="0.6"/>
<circle cx="456.9" cy="271.9" r="3.35" fill="#ff0808" fill-opacity="0.62" stroke="#700" stroke-opacity="0.8" stroke-width="0.6"/>
<circle cx="463.1" cy="273.1" r="3.35" fill="#ff0808" fill-opacity="0.62" stroke="#700" stroke-opacity="0.8" stroke-width="0.6"/>
<circle cx="457.5" cy="227.2" r="3.35" fill="#ff0808" fill-opacity="0.62" stroke="#700" stroke-opacity="0.8" stroke-width="0.6"/>
<circle cx="466.2" cy="228.4" r="3.35" fill="#ff0808" fill-opacity="0.62" stroke="#700" stroke-opacity="0.8" stroke-width="0.6"/>
<circle cx="462.5" cy="222.2" r="3.35" fill="#ff0808" fill-opacity="0.62" stroke="#700" stroke-opacity="0.8" stroke-width="0.6"/>
<circle cx="461.2" cy="239.0" r="3.35" fill="#ff0808" fill-opacity="0.62" stroke="#700" stroke-opacity="0.8" stroke-width="0.6"/>
<circle cx="470.6" cy="236.5" r="3.35" fill="#ff0808" fill-opacity="0.62" stroke="#700" stroke-opacity="0.8" stroke-width="0.6"/>
<circle cx="470.6" cy="239.0" r="3.35" fill="#ff0808" fill-opacity="0.62" stroke="#700" stroke-opacity="0.8" stroke-width="0.6"/>
<circle cx="478.6" cy="239.0" r="3.35" fill="#ff0808" fill-opacity="0.62" stroke="#700" stroke-opacity="0.8" stroke-width="0.6"/>
<circle cx="478.6" cy="242.1" r="3.35" fill="#ff0808" fill-opacity="0.62" stroke="#700" stroke-opacity="0.8" stroke-width="0.6"/>
<circle cx="478.6" cy="245.2" r="3.35" fill="#ff0808" fill-opacity="0.62" stroke="#700" stroke-opacity="0.8" stroke-width="0.6"/>
<circle cx="478.9" cy="245.4" r="3.35" fill="#ff0808" fill-opacity="0.62" stroke="#700" stroke-opacity="0.8" stroke-width="0.6"/>
<circle cx="478.6" cy="247.1" r="3.35" fill="#ff0808" fill-opacity="0.62" stroke="#700" stroke-opacity="0.8" stroke-width="0.6"/>
<circle cx="466.8" cy="248.3" r="3.35" fill="#ff0808" fill-opacity="0.62" stroke="#700" stroke-opacity="0.8" stroke-width="0.6"/>
<circle cx="471.8" cy="250.2" r="3.35" fill="#ff0808" fill-opacity="0.62" stroke="#700" stroke-opacity="0.8" stroke-width="0.6"/>
<circle cx="472.0" cy="250.4" r="3.35" fill="#ff0808" fill-opacity="0.62" stroke="#700" stroke-opacity="0.8" stroke-width="0.6"/>
<circle cx="471.2" cy="252.6" r="3.35" fill="#ff0808" fill-opacity="0.62" stroke="#700" stroke-opacity="0.8" stroke-width="0.6"/>
<circle cx="461.9" cy="253.3" r="3.35" fill="#ff0808" fill-opacity="0.62" stroke="#700" stroke-opacity="0.8" stroke-width="0.6"/>
<circle cx="466.2" cy="255.1" r="3.35" fill="#ff0808" fill-opacity="0.62" stroke="#700" stroke-opacity="0.8" stroke-width="0.6"/>
<circle cx="465.6" cy="260.7" r="3.35" fill="#ff0808" fill-opacity="0.62" stroke="#700" stroke-opacity="0.8" stroke-width="0.6"/>
<circle cx="471.2" cy="261.3" r="3.35" fill="#ff0808" fill-opacity="0.62" stroke="#700" stroke-opacity="0.8" stroke-width="0.6"/>
<circle cx="470.6" cy="266.9" r="3.35" fill="#ff0808" fill-opacity="0.62" stroke="#700" stroke-opacity="0.8" stroke-width="0.6"/>
<circle cx="478.6" cy="254.5" r="3.35" fill="#ff0808" fill-opacity="0.62" stroke="#700" stroke-opacity="0.8" stroke-width="0.6"/>
<circle cx="478.6" cy="260.7" r="3.35" fill="#ff0808" fill-opacity="0.62" stroke="#700" stroke-opacity="0.8" stroke-width="0.6"/>
<circle cx="478.9" cy="261.0" r="3.35" fill="#ff0808" fill-opacity="0.62" stroke="#700" stroke-opacity="0.8" stroke-width="0.6"/>
<circle cx="483.0" cy="253.9" r="3.35" fill="#ff0808" fill-opacity="0.62" stroke="#700" stroke-opacity="0.8" stroke-width="0.6"/>
<circle cx="483.2" cy="254.1" r="3.35" fill="#ff0808" fill-opacity="0.62" stroke="#700" stroke-opacity="0.8" stroke-width="0.6"/>
<circle cx="483.6" cy="257.0" r="3.35" fill="#ff0808" fill-opacity="0.62" stroke="#700" stroke-opacity="0.8" stroke-width="0.6"/>
<circle cx="489.2" cy="257.0" r="3.35" fill="#ff0808" fill-opacity="0.62" stroke="#700" stroke-opacity="0.8" stroke-width="0.6"/>
<circle cx="485.4" cy="245.8" r="3.35" fill="#ff0808" fill-opacity="0.62" stroke="#700" stroke-opacity="0.8" stroke-width="0.6"/>
<circle cx="489.8" cy="247.7" r="3.35" fill="#ff0808" fill-opacity="0.62" stroke="#700" stroke-opacity="0.8" stroke-width="0.6"/>
<circle cx="483.0" cy="226.6" r="3.35" fill="#ff0808" fill-opacity="0.62" stroke="#700" stroke-opacity="0.8" stroke-width="0.6"/>
<circle cx="489.2" cy="224.1" r="3.35" fill="#ff0808" fill-opacity="0.62" stroke="#700" stroke-opacity="0.8" stroke-width="0.6"/>
<circle cx="488.5" cy="265.7" r="3.35" fill="#ff0808" fill-opacity="0.62" stroke="#700" stroke-opacity="0.8" stroke-width="0.6"/>
<circle cx="489.2" cy="273.1" r="3.35" fill="#ff0808" fill-opacity="0.62" stroke="#700" stroke-opacity="0.8" stroke-width="0.6"/>
<circle cx="495.4" cy="242.7" r="3.35" fill="#ff0808" fill-opacity="0.62" stroke="#700" stroke-opacity="0.8" stroke-width="0.6"/>
<circle cx="540.0" cy="217.2" r="3.35" fill="#ff0808" fill-opacity="0.62" stroke="#700" stroke-opacity="0.8" stroke-width="0.6"/>
<circle cx="525.5" cy="222.4" r="3.35" fill="#ff0808" fill-opacity="0.62" stroke="#700" stroke-opacity="0.8" stroke-width="0.6"/>
<circle cx="513.1" cy="221.1" r="3.35" fill="#ff0808" fill-opacity="0.62" stroke="#700" stroke-opacity="0.8" stroke-width="0.6"/>
<circle cx="513.1" cy="240.4" r="3.35" fill="#ff0808" fill-opacity="0.62" stroke="#700" stroke-opacity="0.8" stroke-width="0.6"/>
<circle cx="513.4" cy="240.6" r="3.35" fill="#ff0808" fill-opacity="0.62" stroke="#700" stroke-opacity="0.8" stroke-width="0.6"/>
<circle cx="515.2" cy="244.7" r="3.35" fill="#ff0808" fill-opacity="0.62" stroke="#700" stroke-opacity="0.8" stroke-width="0.6"/>
<circle cx="505.9" cy="244.1" r="3.35" fill="#ff0808" fill-opacity="0.62" stroke="#700" stroke-opacity="0.8" stroke-width="0.6"/>
<circle cx="505.9" cy="250.3" r="3.35" fill="#ff0808" fill-opacity="0.62" stroke="#700" stroke-opacity="0.8" stroke-width="0.6"/>
<circle cx="497.9" cy="239.1" r="3.35" fill="#ff0808" fill-opacity="0.62" stroke="#700" stroke-opacity="0.8" stroke-width="0.6"/>
<circle cx="498.1" cy="239.4" r="3.35" fill="#ff0808" fill-opacity="0.62" stroke="#700" stroke-opacity="0.8" stroke-width="0.6"/>
<circle cx="497.9" cy="242.8" r="3.35" fill="#ff0808" fill-opacity="0.62" stroke="#700" stroke-opacity="0.8" stroke-width="0.6"/>
<circle cx="519.6" cy="254.6" r="3.35" fill="#ff0808" fill-opacity="0.62" stroke="#700" stroke-opacity="0.8" stroke-width="0.6"/>
<circle cx="525.8" cy="256.5" r="3.35" fill="#ff0808" fill-opacity="0.62" stroke="#700" stroke-opacity="0.8" stroke-width="0.6"/>
<circle cx="512.7" cy="257.1" r="3.35" fill="#ff0808" fill-opacity="0.62" stroke="#700" stroke-opacity="0.8" stroke-width="0.6"/>
<circle cx="513.0" cy="257.4" r="3.35" fill="#ff0808" fill-opacity="0.62" stroke="#700" stroke-opacity="0.8" stroke-width="0.6"/>
<circle cx="505.9" cy="258.3" r="3.35" fill="#ff0808" fill-opacity="0.62" stroke="#700" stroke-opacity="0.8" stroke-width="0.6"/>
<circle cx="501.0" cy="254.6" r="3.35" fill="#ff0808" fill-opacity="0.62" stroke="#700" stroke-opacity="0.8" stroke-width="0.6"/>
<circle cx="497.2" cy="252.8" r="3.35" fill="#ff0808" fill-opacity="0.62" stroke="#700" stroke-opacity="0.8" stroke-width="0.6"/>
<circle cx="497.2" cy="257.1" r="3.35" fill="#ff0808" fill-opacity="0.62" stroke="#700" stroke-opacity="0.8" stroke-width="0.6"/>
<circle cx="467.5" cy="206.0" r="3.35" fill="#ff0808" fill-opacity="0.62" stroke="#700" stroke-opacity="0.8" stroke-width="0.6"/>
<circle cx="467.8" cy="206.2" r="3.35" fill="#ff0808" fill-opacity="0.62" stroke="#700" stroke-opacity="0.8" stroke-width="0.6"/>
<circle cx="505.8" cy="272.2" r="3.35" fill="#ff0808" fill-opacity="0.62" stroke="#700" stroke-opacity="0.8" stroke-width="0.6"/>
<circle cx="431.5" cy="287.5" r="3.35" fill="#ff0808" fill-opacity="0.62" stroke="#700" stroke-opacity="0.8" stroke-width="0.6"/>
<circle cx="432.0" cy="288.0" r="3.35" fill="#ff0808" fill-opacity="0.62" stroke="#700" stroke-opacity="0.8" stroke-width="0.6"/>
<circle cx="438.2" cy="279.5" r="3.35" fill="#ff0808" fill-opacity="0.62" stroke="#700" stroke-opacity="0.8" stroke-width="0.6"/>
<circle cx="450.8" cy="280.0" r="3.35" fill="#ff0808" fill-opacity="0.62" stroke="#700" stroke-opacity="0.8" stroke-width="0.6"/>
<circle cx="456.2" cy="286.5" r="3.35" fill="#ff0808" fill-opacity="0.62" stroke="#700" stroke-opacity="0.8" stroke-width="0.6"/>
<circle cx="471.2" cy="282.5" r="3.35" fill="#ff0808" fill-opacity="0.62" stroke="#700" stroke-opacity="0.8" stroke-width="0.6"/>
<circle cx="471.2" cy="288.8" r="3.35" fill="#ff0808" fill-opacity="0.62" stroke="#700" stroke-opacity="0.8" stroke-width="0.6"/>
<circle cx="478.2" cy="280.0" r="3.35" fill="#ff0808" fill-opacity="0.62" stroke="#700" stroke-opacity="0.8" stroke-width="0.6"/>
<circle cx="489.0" cy="280.0" r="3.35" fill="#ff0808" fill-opacity="0.62" stroke="#700" stroke-opacity="0.8" stroke-width="0.6"/>
<circle cx="498.2" cy="282.5" r="3.35" fill="#ff0808" fill-opacity="0.62" stroke="#700" stroke-opacity="0.8" stroke-width="0.6"/>
<circle cx="498.2" cy="284.5" r="3.35" fill="#ff0808" fill-opacity="0.62" stroke="#700" stroke-opacity="0.8" stroke-width="0.6"/>
<circle cx="435.8" cy="316.2" r="3.35" fill="#ff0808" fill-opacity="0.62" stroke="#700" stroke-opacity="0.8" stroke-width="0.6"/>
<circle cx="472.0" cy="277.0" r="3.35" fill="#ff0808" fill-opacity="0.62" stroke="#700" stroke-opacity="0.8" stroke-width="0.6"/>
<circle cx="464.5" cy="277.0" r="3.35" fill="#ff0808" fill-opacity="0.62" stroke="#700" stroke-opacity="0.8" stroke-width="0.6"/>
<line x1="90.5" y1="152.0" x2="453" y2="233.6" stroke="#000" stroke-width="3.0" stroke-linecap="butt"/>
<g stroke="#111" stroke-width="1.3" fill="none">
<line x1="121.3" y1="58.4" x2="121.3" y2="62.6"/>
<line x1="121.3" y1="382.15" x2="121.3" y2="377.95"/>
<line x1="149.0" y1="58.4" x2="149.0" y2="62.6"/>
<line x1="149.0" y1="382.15" x2="149.0" y2="377.95"/>
<line x1="168.6" y1="58.4" x2="168.6" y2="62.6"/>
<line x1="168.6" y1="382.15" x2="168.6" y2="377.95"/>
<line x1="183.8" y1="58.4" x2="183.8" y2="62.6"/>
<line x1="183.8" y1="382.15" x2="183.8" y2="377.95"/>
<line x1="196.3" y1="58.4" x2="196.3" y2="62.6"/>
<line x1="196.3" y1="382.15" x2="196.3" y2="377.95"/>
<line x1="206.8" y1="58.4" x2="206.8" y2="62.6"/>
<line x1="206.8" y1="382.15" x2="206.8" y2="377.95"/>
<line x1="215.9" y1="58.4" x2="215.9" y2="62.6"/>
<line x1="215.9" y1="382.15" x2="215.9" y2="377.95"/>
<line x1="223.9" y1="58.4" x2="223.9" y2="62.6"/>
<line x1="223.9" y1="382.15" x2="223.9" y2="377.95"/>
<line x1="231.1" y1="58.4" x2="231.1" y2="66.6"/>
<line x1="231.1" y1="382.15" x2="231.1" y2="373.95"/>
<line x1="256.2" y1="58.4" x2="256.2" y2="62.6"/>
<line x1="256.2" y1="382.15" x2="256.2" y2="377.95"/>
<line x1="274.5" y1="58.4" x2="274.5" y2="62.6"/>
<line x1="274.5" y1="382.15" x2="274.5" y2="377.95"/>
<line x1="288.9" y1="58.4" x2="288.9" y2="62.6"/>
<line x1="288.9" y1="382.15" x2="288.9" y2="377.95"/>
<line x1="300.8" y1="58.4" x2="300.8" y2="62.6"/>
<line x1="300.8" y1="382.15" x2="300.8" y2="377.95"/>
<line x1="310.9" y1="58.4" x2="310.9" y2="62.6"/>
<line x1="310.9" y1="382.15" x2="310.9" y2="377.95"/>
<line x1="319.8" y1="58.4" x2="319.8" y2="62.6"/>
<line x1="319.8" y1="382.15" x2="319.8" y2="377.95"/>
<line x1="327.6" y1="58.4" x2="327.6" y2="62.6"/>
<line x1="327.6" y1="382.15" x2="327.6" y2="377.95"/>
<line x1="334.6" y1="58.4" x2="334.6" y2="62.6"/>
<line x1="334.6" y1="382.15" x2="334.6" y2="377.95"/>
<line x1="340.9" y1="58.4" x2="340.9" y2="66.6"/>
<line x1="340.9" y1="382.15" x2="340.9" y2="373.95"/>
<line x1="354.6" y1="58.4" x2="354.6" y2="62.6"/>
<line x1="354.6" y1="382.15" x2="354.6" y2="377.95"/>
<line x1="366.0" y1="58.4" x2="366.0" y2="62.6"/>
<line x1="366.0" y1="382.15" x2="366.0" y2="377.95"/>
<line x1="375.8" y1="58.4" x2="375.8" y2="62.6"/>
<line x1="375.8" y1="382.15" x2="375.8" y2="377.95"/>
<line x1="384.3" y1="58.4" x2="384.3" y2="62.6"/>
<line x1="384.3" y1="382.15" x2="384.3" y2="377.95"/>
<line x1="391.9" y1="58.4" x2="391.9" y2="62.6"/>
<line x1="391.9" y1="382.15" x2="391.9" y2="377.95"/>
<line x1="398.7" y1="58.4" x2="398.7" y2="62.6"/>
<line x1="398.7" y1="382.15" x2="398.7" y2="377.95"/>
<line x1="404.9" y1="58.4" x2="404.9" y2="62.6"/>
<line x1="404.9" y1="382.15" x2="404.9" y2="377.95"/>
<line x1="410.6" y1="58.4" x2="410.6" y2="62.6"/>
<line x1="410.6" y1="382.15" x2="410.6" y2="377.95"/>
<line x1="415.9" y1="58.4" x2="415.9" y2="66.6"/>
<line x1="415.9" y1="382.15" x2="415.9" y2="373.95"/>
<line x1="431.6" y1="58.4" x2="431.6" y2="62.6"/>
<line x1="431.6" y1="382.15" x2="431.6" y2="377.95"/>
<line x1="444.4" y1="58.4" x2="444.4" y2="62.6"/>
<line x1="444.4" y1="382.15" x2="444.4" y2="377.95"/>
<line x1="455.1" y1="58.4" x2="455.1" y2="62.6"/>
<line x1="455.1" y1="382.15" x2="455.1" y2="377.95"/>
<line x1="464.4" y1="58.4" x2="464.4" y2="62.6"/>
<line x1="464.4" y1="382.15" x2="464.4" y2="377.95"/>
<line x1="472.6" y1="58.4" x2="472.6" y2="62.6"/>
<line x1="472.6" y1="382.15" x2="472.6" y2="377.95"/>
<line x1="479.9" y1="58.4" x2="479.9" y2="62.6"/>
<line x1="479.9" y1="382.15" x2="479.9" y2="377.95"/>
<line x1="486.5" y1="58.4" x2="486.5" y2="62.6"/>
<line x1="486.5" y1="382.15" x2="486.5" y2="377.95"/>
<line x1="492.5" y1="58.4" x2="492.5" y2="62.6"/>
<line x1="492.5" y1="382.15" x2="492.5" y2="377.95"/>
<line x1="498.0" y1="58.4" x2="498.0" y2="66.6"/>
<line x1="498.0" y1="382.15" x2="498.0" y2="373.95"/>
<line x1="511.7" y1="58.4" x2="511.7" y2="62.6"/>
<line x1="511.7" y1="382.15" x2="511.7" y2="377.95"/>
<line x1="523.1" y1="58.4" x2="523.1" y2="62.6"/>
<line x1="523.1" y1="382.15" x2="523.1" y2="377.95"/>
<line x1="532.9" y1="58.4" x2="532.9" y2="62.6"/>
<line x1="532.9" y1="382.15" x2="532.9" y2="377.95"/>
<line x1="541.4" y1="58.4" x2="541.4" y2="62.6"/>
<line x1="541.4" y1="382.15" x2="541.4" y2="377.95"/>
<line x1="549.0" y1="58.4" x2="549.0" y2="62.6"/>
<line x1="549.0" y1="382.15" x2="549.0" y2="377.95"/>
<line x1="555.9" y1="58.4" x2="555.9" y2="62.6"/>
<line x1="555.9" y1="382.15" x2="555.9" y2="377.95"/>
<line x1="562.1" y1="58.4" x2="562.1" y2="62.6"/>
<line x1="562.1" y1="382.15" x2="562.1" y2="377.95"/>
<line x1="567.7" y1="58.4" x2="567.7" y2="62.6"/>
<line x1="567.7" y1="382.15" x2="567.7" y2="377.95"/>
<line x1="74.0" y1="362.7" x2="78.2" y2="362.7"/>
<line x1="74.0" y1="351.3" x2="78.2" y2="351.3"/>
<line x1="74.0" y1="343.2" x2="78.2" y2="343.2"/>
<line x1="74.0" y1="336.9" x2="78.2" y2="336.9"/>
<line x1="74.0" y1="331.8" x2="78.2" y2="331.8"/>
<line x1="74.0" y1="327.4" x2="78.2" y2="327.4"/>
<line x1="74.0" y1="323.7" x2="78.2" y2="323.7"/>
<line x1="74.0" y1="320.4" x2="78.2" y2="320.4"/>
<line x1="74.0" y1="317.4" x2="82.2" y2="317.4"/>
<line x1="74.0" y1="297.9" x2="78.2" y2="297.9"/>
<line x1="74.0" y1="286.5" x2="78.2" y2="286.5"/>
<line x1="74.0" y1="278.4" x2="78.2" y2="278.4"/>
<line x1="74.0" y1="272.1" x2="78.2" y2="272.1"/>
<line x1="74.0" y1="267.0" x2="78.2" y2="267.0"/>
<line x1="74.0" y1="262.7" x2="78.2" y2="262.7"/>
<line x1="74.0" y1="258.9" x2="78.2" y2="258.9"/>
<line x1="74.0" y1="255.6" x2="78.2" y2="255.6"/>
<line x1="74.0" y1="252.7" x2="82.2" y2="252.7"/>
<line x1="74.0" y1="233.2" x2="78.2" y2="233.2"/>
<line x1="74.0" y1="221.8" x2="78.2" y2="221.8"/>
<line x1="74.0" y1="213.7" x2="78.2" y2="213.7"/>
<line x1="74.0" y1="207.4" x2="78.2" y2="207.4"/>
<line x1="74.0" y1="202.3" x2="78.2" y2="202.3"/>
<line x1="74.0" y1="197.9" x2="78.2" y2="197.9"/>
<line x1="74.0" y1="194.2" x2="78.2" y2="194.2"/>
<line x1="74.0" y1="190.9" x2="78.2" y2="190.9"/>
<line x1="74.0" y1="187.9" x2="82.2" y2="187.9"/>
<line x1="74.0" y1="168.4" x2="78.2" y2="168.4"/>
<line x1="74.0" y1="157.0" x2="78.2" y2="157.0"/>
<line x1="74.0" y1="148.9" x2="78.2" y2="148.9"/>
<line x1="74.0" y1="142.6" x2="78.2" y2="142.6"/>
<line x1="74.0" y1="137.5" x2="78.2" y2="137.5"/>
<line x1="74.0" y1="133.2" x2="78.2" y2="133.2"/>
<line x1="74.0" y1="129.4" x2="78.2" y2="129.4"/>
<line x1="74.0" y1="126.1" x2="78.2" y2="126.1"/>
<line x1="74.0" y1="123.2" x2="82.2" y2="123.2"/>
<line x1="74.0" y1="103.7" x2="78.2" y2="103.7"/>
<line x1="74.0" y1="92.3" x2="78.2" y2="92.3"/>
<line x1="74.0" y1="84.2" x2="78.2" y2="84.2"/>
<line x1="74.0" y1="77.9" x2="78.2" y2="77.9"/>
<line x1="74.0" y1="72.8" x2="78.2" y2="72.8"/>
<line x1="74.0" y1="68.4" x2="78.2" y2="68.4"/>
<line x1="74.0" y1="64.7" x2="78.2" y2="64.7"/>
<line x1="74.0" y1="61.4" x2="78.2" y2="61.4"/>
</g>
<rect x="74.0" y="58.4" width="499.0" height="323.75" fill="none" stroke="#111" stroke-width="1.4"/>
<text x="323.5" y="17.3" font-size="21.5" text-anchor="middle" >Converted SPT <tspan font-style="italic">N</tspan>-value [Blows]</text>
<text x="323.5" y="436" font-size="21.5" text-anchor="middle" >SPT <tspan font-style="italic">N</tspan>-value [Blows/cm]</text>
<text x="73.7" y="45" font-size="17" text-anchor="middle" >1</text>
<text x="230.8" y="45" font-size="17" text-anchor="middle" >10</text>
<text x="340.6" y="45" font-size="17" text-anchor="middle" >50</text>
<text x="415.6" y="45" font-size="17" text-anchor="middle" >150</text>
<text x="497.7" y="45" font-size="17" text-anchor="middle" >500</text>
<text x="572.7" y="45" font-size="17" text-anchor="middle" >1500</text>
<text x="74.0" y="404.8" font-size="17" text-anchor="middle" >1/30</text>
<text x="231.1" y="404.8" font-size="17" text-anchor="middle" >10/30</text>
<text x="340.9" y="404.8" font-size="17" text-anchor="middle" >50/30</text>
<text x="415.9" y="404.8" font-size="17" text-anchor="middle" >50/10</text>
<text x="498.0" y="404.8" font-size="17" text-anchor="middle" >50/3</text>
<text x="573.0" y="404.8" font-size="17" text-anchor="middle" >50/1</text>
<text x="64.3" y="388.6" font-size="17" text-anchor="end">10<tspan font-size="12" dy="-6.6">−6</tspan></text>
<text x="64.3" y="323.9" font-size="17" text-anchor="end">10<tspan font-size="12" dy="-6.6">−5</tspan></text>
<text x="64.3" y="259.1" font-size="17" text-anchor="end">10<tspan font-size="12" dy="-6.6">−4</tspan></text>
<text x="64.3" y="194.4" font-size="17" text-anchor="end">10<tspan font-size="12" dy="-6.6">−3</tspan></text>
<text x="64.3" y="129.7" font-size="17" text-anchor="end">10<tspan font-size="12" dy="-6.6">−2</tspan></text>
<text x="64.3" y="64.9" font-size="17" text-anchor="end">10<tspan font-size="12" dy="-6.6">−1</tspan></text>
<text transform="translate(19.5,219.4) rotate(-90)" font-size="21.6" text-anchor="middle"><tspan font-style="italic">K</tspan><tspan font-size="14.7" dy="5">Field-measured</tspan><tspan dy="-5"> [cm/s]</tspan></text>
<text x="618.6" y="77" font-size="15.7" text-anchor="start" >CH</text>
<circle cx="596.2" cy="72" r="3.35" fill="#0a8c0a" fill-opacity="0.63" stroke="#0a3d0a" stroke-opacity="0.8" stroke-width="0.6"/>
<text x="618.6" y="96.25" font-size="15.7" text-anchor="start" >CL</text>
<rect x="593.4" y="88.7" width="5.7" height="5.7" fill="#0a8c0a" fill-opacity="0.63" stroke="#0a3d0a" stroke-opacity="0.8" stroke-width="0.6"/>
<text x="618.6" y="116.25" font-size="15.7" text-anchor="start" >CL-ML</text>
<path d="M592.2,113.3L600.2,113.3L596.2,106.6Z" fill="#0a8c0a" fill-opacity="0.63" stroke="#0a3d0a" stroke-opacity="0.8" stroke-width="0.6"/>
<text x="618.6" y="135.5" font-size="15.7" text-anchor="start" >ML</text>
<path d="M592.2,127.5L600.2,127.5L596.2,134.1Z" fill="#0a8c0a" fill-opacity="0.63" stroke="#0a3d0a" stroke-opacity="0.8" stroke-width="0.6"/>
<text x="618.6" y="174.25" font-size="15.7" text-anchor="start" >SM</text>
<circle cx="596.2" cy="169.25" r="3.35" fill="#505050" fill-opacity="0.6" stroke="#1a1a1a" stroke-opacity="0.8" stroke-width="0.6"/>
<text x="618.6" y="193.75" font-size="15.7" text-anchor="start" >SP-SM</text>
<rect x="593.4" y="185.9" width="5.7" height="5.7" fill="#505050" fill-opacity="0.6" stroke="#1a1a1a" stroke-opacity="0.8" stroke-width="0.6"/>
<text x="618.6" y="213" font-size="15.7" text-anchor="start" >SW-SM</text>
<path d="M592.2,211.3L600.2,211.3L596.2,204.6Z" fill="#505050" fill-opacity="0.6" stroke="#1a1a1a" stroke-opacity="0.8" stroke-width="0.6"/>
<text x="618.6" y="252" font-size="15.7" text-anchor="start" >GM</text>
<circle cx="596.2" cy="247" r="3.35" fill="#1818f0" fill-opacity="0.7" stroke="#114" stroke-opacity="0.8" stroke-width="0.6"/>
<text x="618.6" y="271.25" font-size="15.7" text-anchor="start" >GP</text>
<rect x="593.4" y="263.4" width="5.7" height="5.7" fill="#1818f0" fill-opacity="0.7" stroke="#114" stroke-opacity="0.8" stroke-width="0.6"/>
<text x="618.6" y="290.75" font-size="15.7" text-anchor="start" >GW-GM</text>
<path d="M592.2,288.8L600.2,288.8L596.2,282.1Z" fill="#1818f0" fill-opacity="0.7" stroke="#114" stroke-opacity="0.8" stroke-width="0.6"/>
<text x="618.6" y="330" font-size="15.7" text-anchor="start" >WR</text>
<circle cx="596.2" cy="325.25" r="3.35" fill="#ff0808" fill-opacity="0.62" stroke="#700" stroke-opacity="0.8" stroke-width="0.6"/>
<text x="627.5" y="368.75" font-size="15.5" text-anchor="start" >for sand</text>
<line x1="578.7" y1="363.7" x2="614" y2="363.7" stroke="#000" stroke-width="3.1" stroke-linecap="round"/>
</svg></body></html>
